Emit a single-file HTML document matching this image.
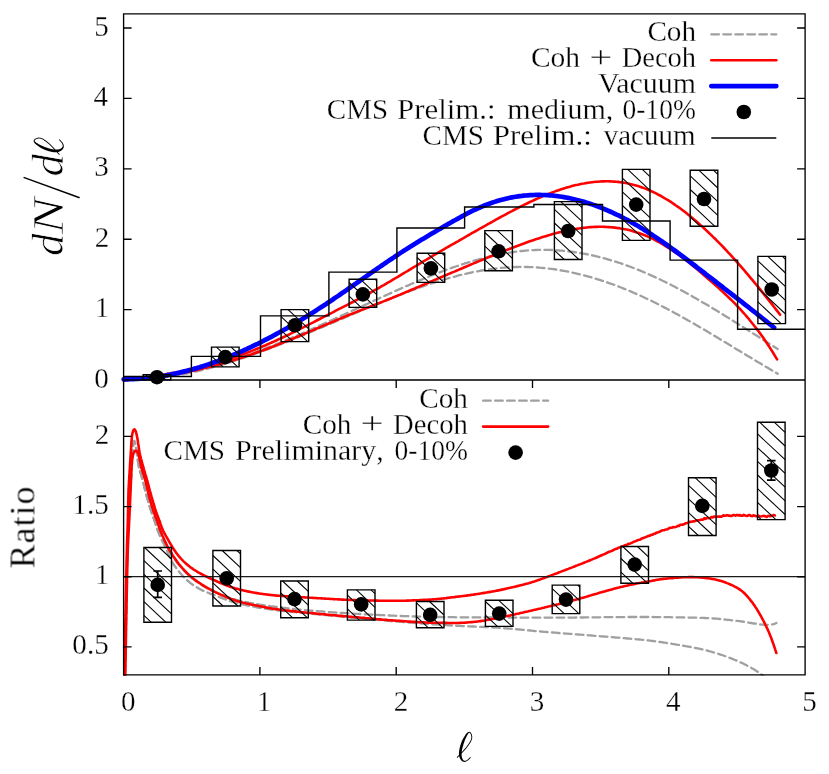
<!DOCTYPE html>
<html><head><meta charset="utf-8"><title>chart</title>
<style>html,body{margin:0;padding:0;background:#fff;width:829px;height:774px;overflow:hidden;}svg{display:block;position:absolute;left:0;top:0;}body{font-family:"Liberation Serif",serif;}</style></head>
<body>
<svg width="829" height="774" viewBox="0 0 829 774">
<rect width="829" height="774" fill="#fff"/>
<defs>
<clipPath id="ct"><rect x="120.6" y="13.9" width="684.5" height="369.1"/></clipPath>
<clipPath id="cb"><rect x="122.1" y="380" width="683" height="295.7"/></clipPath>
</defs>
<g fill="none" stroke-linejoin="round" clip-path="url(#ct)">
<path d="M123.6 379.5L125.6 379.5L127.6 379.4L129.6 379.4L131.6 379.4L133.6 379.3L135.6 379.2L137.6 379.2L139.6 379L141.6 378.9L143.6 378.8L145.6 378.6L147.6 378.5L149.6 378.3L151.6 378.1L153.6 377.9L155.6 377.7L157.6 377.5L159.6 377.2L161.6 377L163.6 376.7L165.6 376.4L167.6 376.1L169.6 375.8L171.6 375.5L173.6 375.1L175.6 374.8L177.6 374.4L179.6 374.1L181.6 373.7L183.6 373.3L185.6 372.9L187.6 372.4L189.6 372L191.6 371.6L193.6 371.1L195.6 370.6L197.6 370.2L199.6 369.7L201.6 369.2L203.6 368.7L205.6 368.2L207.6 367.6L209.6 367.1L211.6 366.5L213.6 366L215.6 365.4L217.6 364.8L219.6 364.2L221.6 363.6L223.6 363L225.6 362.4L227.6 361.8L229.6 361.2L231.6 360.5L233.6 359.9L235.6 359.2L237.6 358.5L239.6 357.9L241.6 357.2L243.6 356.5L245.6 355.8L247.6 355.1L249.6 354.4L251.6 353.6L253.6 352.9L255.6 352.2L257.6 351.4L259.6 350.7L261.6 349.9L263.6 349.1L265.6 348.4L267.6 347.6L269.6 346.8L271.6 346L273.6 345.2L275.6 344.4L277.6 343.6L279.6 342.8L281.6 342L283.6 341.2L285.6 340.3L287.6 339.5L289.6 338.7L291.6 337.8L293.6 337L295.6 336.1L297.6 335.3L299.6 334.4L301.6 333.6L303.6 332.7L305.6 331.8L307.6 330.9L309.6 330.1L311.6 329.2L313.6 328.3L315.6 327.4L317.6 326.5L319.6 325.6L321.6 324.7L323.6 323.8L325.6 322.9L327.6 322L329.6 321.1L331.6 320.2L333.6 319.3L335.6 318.4L337.6 317.5L339.6 316.6L341.6 315.6L343.6 314.7L345.6 313.8L347.6 312.9L349.6 312L351.6 311L353.6 310.1L355.6 309.2L357.6 308.3L359.6 307.3L361.6 306.4L363.6 305.5L365.6 304.6L367.6 303.7L369.6 302.7L371.6 301.8L373.6 300.9L375.6 300L377.6 299.1L379.6 298.1L381.6 297.2L383.6 296.3L385.6 295.4L387.6 294.5L389.6 293.6L391.6 292.7L393.6 291.8L395.6 290.9L397.6 290L399.6 289.1L401.6 288.2L403.6 287.3L405.6 286.4L407.6 285.6L409.6 284.7L411.6 283.8L413.6 283L415.6 282.1L417.6 281.3L419.6 280.4L421.6 279.6L423.6 278.8L425.6 277.9L427.6 277.1L429.6 276.3L431.6 275.5L433.6 274.7L435.6 273.9L437.6 273.1L439.6 272.4L441.6 271.6L443.6 270.9L445.6 270.1L447.6 269.4L449.6 268.7L451.7 267.9L453.7 267.2L455.7 266.5L457.7 265.9L459.7 265.2L461.7 264.5L463.7 263.9L465.7 263.2L467.7 262.6L469.7 262L471.7 261.4L473.7 260.8L475.7 260.2L477.7 259.7L479.7 259.1L481.7 258.6L483.7 258L485.7 257.5L487.7 257L489.7 256.6L491.7 256.1L493.7 255.6L495.7 255.2L497.7 254.8L499.7 254.4L501.7 254L503.7 253.6L505.7 253.2L507.7 252.9L509.7 252.6L511.7 252.3L513.7 252L515.7 251.7L517.7 251.5L519.7 251.2L521.7 251L523.7 250.8L525.7 250.6L527.7 250.4L529.7 250.3L531.7 250.2L533.7 250.1L535.7 250L537.7 249.9L539.7 249.9L541.7 249.8L543.7 249.8L545.7 249.8L547.7 249.9L549.7 249.9L551.7 250L553.7 250.1L555.7 250.2L557.7 250.3L559.7 250.5L561.7 250.6L563.7 250.8L565.7 251L567.7 251.2L569.7 251.5L571.7 251.7L573.7 252L575.7 252.3L577.7 252.6L579.7 252.9L581.7 253.3L583.7 253.6L585.7 254L587.7 254.4L589.7 254.8L591.7 255.2L593.7 255.7L595.7 256.2L597.7 256.6L599.7 257.1L601.7 257.6L603.7 258.2L605.7 258.7L607.7 259.3L609.7 259.9L611.7 260.5L613.7 261.1L615.7 261.7L617.7 262.3L619.7 263L621.7 263.7L623.7 264.4L625.7 265.1L627.7 265.8L629.7 266.5L631.7 267.3L633.7 268L635.7 268.8L637.7 269.6L639.7 270.4L641.7 271.2L643.7 272.1L645.7 272.9L647.7 273.8L649.7 274.7L651.7 275.6L653.7 276.5L655.7 277.4L657.7 278.3L659.7 279.3L661.7 280.3L663.7 281.2L665.7 282.2L667.7 283.2L669.7 284.2L671.7 285.2L673.7 286.3L675.7 287.3L677.7 288.4L679.7 289.4L681.7 290.5L683.7 291.6L685.7 292.7L687.7 293.8L689.7 294.9L691.7 296L693.7 297.2L695.7 298.3L697.7 299.4L699.7 300.6L701.7 301.8L703.7 302.9L705.7 304.1L707.7 305.3L709.7 306.5L711.7 307.7L713.7 308.9L715.7 310.1L717.7 311.3L719.7 312.5L721.7 313.7L723.7 315L725.7 316.2L727.7 317.4L729.7 318.7L731.7 319.9L733.7 321.2L735.7 322.4L737.7 323.7L739.7 324.9L741.7 326.2L743.7 327.5L745.7 328.7L747.7 330L749.7 331.3L751.7 332.5L753.7 333.8L755.7 335.1L757.7 336.3L759.7 337.6L761.7 338.9L763.7 340.2L765.7 341.4L767.7 342.7L769.7 344L771.7 345.2L773.7 346.5L775.7 347.8L777.7 349" stroke="#a0a0a0" stroke-width="2.3" stroke-linecap="round" stroke-dasharray="7.7 4.3"/>
<path d="M123.6 379.4L125.6 379.5L127.6 379.5L129.6 379.5L131.6 379.5L133.6 379.5L135.6 379.4L137.6 379.4L139.6 379.3L141.6 379.2L143.6 379.1L145.6 379L147.6 378.8L149.6 378.7L151.6 378.5L153.6 378.3L155.6 378.2L157.6 378L159.6 377.7L161.6 377.5L163.6 377.2L165.6 377L167.6 376.7L169.6 376.4L171.6 376.1L173.6 375.8L175.6 375.5L177.6 375.1L179.6 374.8L181.6 374.4L183.6 374L185.6 373.7L187.6 373.3L189.6 372.8L191.6 372.4L193.6 372L195.6 371.5L197.6 371.1L199.6 370.6L201.6 370.1L203.6 369.6L205.6 369.1L207.6 368.6L209.6 368.1L211.6 367.6L213.6 367L215.6 366.5L217.6 365.9L219.6 365.4L221.6 364.8L223.6 364.2L225.6 363.6L227.6 363L229.6 362.4L231.6 361.8L233.6 361.1L235.6 360.5L237.6 359.8L239.6 359.2L241.6 358.5L243.6 357.8L245.6 357.2L247.6 356.5L249.6 355.8L251.6 355.1L253.6 354.4L255.6 353.7L257.6 353L259.6 352.2L261.6 351.5L263.6 350.8L265.6 350L267.6 349.3L269.6 348.5L271.6 347.8L273.6 347L275.6 346.2L277.6 345.4L279.6 344.7L281.6 343.9L283.6 343.1L285.6 342.3L287.6 341.5L289.6 340.7L291.6 339.9L293.6 339.1L295.6 338.3L297.6 337.5L299.6 336.6L301.6 335.8L303.6 335L305.6 334.2L307.6 333.3L309.6 332.5L311.6 331.7L313.6 330.8L315.6 330L317.6 329.1L319.6 328.3L321.6 327.5L323.6 326.6L325.6 325.8L327.6 324.9L329.6 324.1L331.6 323.2L333.6 322.4L335.6 321.5L337.6 320.7L339.6 319.8L341.6 319L343.6 318.1L345.6 317.3L347.6 316.4L349.6 315.6L351.6 314.7L353.6 313.9L355.6 313L357.6 312.2L359.6 311.3L361.6 310.5L363.6 309.6L365.6 308.8L367.6 308L369.6 307.1L371.6 306.3L373.6 305.5L375.6 304.6L377.6 303.8L379.6 303L381.6 302.2L383.6 301.3L385.6 300.5L387.6 299.7L389.6 298.9L391.6 298.1L393.6 297.3L395.6 296.5L397.6 295.7L399.6 295L401.6 294.2L403.6 293.4L405.6 292.7L407.6 291.9L409.6 291.2L411.6 290.4L413.6 289.7L415.6 289L417.6 288.2L419.6 287.5L421.6 286.8L423.6 286.1L425.6 285.4L427.6 284.7L429.6 284.1L431.6 283.4L433.6 282.8L435.6 282.1L437.6 281.5L439.6 280.9L441.6 280.2L443.6 279.6L445.6 279.1L447.6 278.5L449.6 277.9L451.7 277.3L453.7 276.8L455.7 276.3L457.7 275.7L459.7 275.2L461.7 274.7L463.7 274.3L465.7 273.8L467.7 273.3L469.7 272.9L471.7 272.5L473.7 272L475.7 271.6L477.7 271.3L479.7 270.9L481.7 270.5L483.7 270.2L485.7 269.9L487.7 269.5L489.7 269.3L491.7 269L493.7 268.7L495.7 268.5L497.7 268.2L499.7 268L501.7 267.8L503.7 267.7L505.7 267.5L507.7 267.4L509.7 267.2L511.7 267.1L513.7 267.1L515.7 267L517.7 267L519.7 266.9L521.7 266.9L523.7 266.9L525.7 267L527.7 267L529.7 267.1L531.7 267.1L533.7 267.2L535.7 267.4L537.7 267.5L539.7 267.7L541.7 267.8L543.7 268L545.7 268.2L547.7 268.4L549.7 268.7L551.7 268.9L553.7 269.2L555.7 269.5L557.7 269.8L559.7 270.1L561.7 270.5L563.7 270.8L565.7 271.2L567.7 271.6L569.7 272L571.7 272.4L573.7 272.9L575.7 273.3L577.7 273.8L579.7 274.3L581.7 274.8L583.7 275.3L585.7 275.8L587.7 276.3L589.7 276.9L591.7 277.5L593.7 278.1L595.7 278.7L597.7 279.3L599.7 279.9L601.7 280.6L603.7 281.2L605.7 281.9L607.7 282.6L609.7 283.3L611.7 284L613.7 284.7L615.7 285.5L617.7 286.2L619.7 287L621.7 287.8L623.7 288.6L625.7 289.4L627.7 290.2L629.7 291L631.7 291.9L633.7 292.8L635.7 293.6L637.7 294.5L639.7 295.4L641.7 296.3L643.7 297.2L645.7 298.2L647.7 299.1L649.7 300.1L651.7 301L653.7 302L655.7 303L657.7 304L659.7 305L661.7 306.1L663.7 307.1L665.7 308.1L667.7 309.2L669.7 310.3L671.7 311.3L673.7 312.4L675.7 313.5L677.7 314.6L679.7 315.7L681.7 316.8L683.7 317.9L685.7 319L687.7 320.2L689.7 321.3L691.7 322.5L693.7 323.6L695.7 324.8L697.7 325.9L699.7 327.1L701.7 328.3L703.7 329.4L705.7 330.6L707.7 331.8L709.7 333L711.7 334.2L713.7 335.4L715.7 336.6L717.7 337.8L719.7 339L721.7 340.2L723.7 341.4L725.7 342.6L727.7 343.8L729.7 345L731.7 346.2L733.7 347.4L735.7 348.7L737.7 349.9L739.7 351.1L741.7 352.3L743.7 353.5L745.7 354.7L747.7 355.9L749.7 357.1L751.7 358.3L753.7 359.5L755.7 360.7L757.7 361.9L759.7 363.1L761.7 364.3L763.7 365.5L765.7 366.7L767.7 367.8L769.7 369L771.7 370.2L773.7 371.3L775.7 372.5L777.7 373.7" stroke="#a0a0a0" stroke-width="2.3" stroke-linecap="round" stroke-dasharray="7.7 4.3"/>
<path d="M123.6 380.2L125.6 380L127.6 379.7L129.6 379.5L131.6 379.2L133.6 378.9L135.6 378.6L137.6 378.4L139.6 378.1L141.6 377.8L143.6 377.5L145.6 377.3L147.6 377L149.6 376.7L151.6 376.4L153.6 376.1L155.6 375.8L157.6 375.5L159.6 375.2L161.6 374.8L163.6 374.5L165.6 374.2L167.6 373.8L169.6 373.5L171.6 373.1L173.6 372.8L175.6 372.4L177.6 372L179.6 371.7L181.6 371.3L183.6 370.9L185.6 370.5L187.6 370L189.7 369.6L191.7 369.2L193.7 368.7L195.7 368.3L197.7 367.8L199.7 367.3L201.7 366.9L203.7 366.4L205.7 365.8L207.7 365.3L209.7 364.8L211.7 364.3L213.7 363.7L215.7 363.1L217.7 362.5L219.7 362L221.7 361.3L223.7 360.7L225.7 360.1L227.7 359.5L229.7 358.8L231.7 358.1L233.7 357.5L235.7 356.8L237.7 356.1L239.7 355.4L241.7 354.7L243.7 353.9L245.7 353.2L247.7 352.4L249.7 351.7L251.7 350.9L253.7 350.1L255.7 349.3L257.7 348.5L259.7 347.7L261.7 346.8L263.7 346L265.7 345.2L267.7 344.3L269.7 343.4L271.7 342.5L273.7 341.6L275.7 340.7L277.7 339.8L279.7 338.9L281.7 338L283.7 337L285.7 336.1L287.7 335.1L289.7 334.2L291.7 333.2L293.7 332.2L295.7 331.2L297.7 330.2L299.7 329.2L301.7 328.2L303.7 327.2L305.7 326.2L307.7 325.1L309.7 324.1L311.7 323.1L313.7 322.1L315.7 321L317.7 320L319.7 319L321.8 317.9L323.8 316.9L325.8 315.9L327.8 314.8L329.8 313.8L331.8 312.8L333.8 311.8L335.8 310.7L337.8 309.7L339.8 308.7L341.8 307.7L343.8 306.6L345.8 305.6L347.8 304.6L349.8 303.5L351.8 302.5L353.8 301.5L355.8 300.4L357.8 299.4L359.8 298.3L361.8 297.3L363.8 296.2L365.8 295.1L367.8 294L369.8 293L371.8 291.9L373.8 290.7L375.8 289.6L377.8 288.5L379.8 287.4L381.8 286.2L383.8 285.1L385.8 283.9L387.8 282.7L389.8 281.6L391.8 280.4L393.8 279.2L395.8 278L397.8 276.8L399.8 275.6L401.8 274.4L403.8 273.2L405.8 272L407.8 270.8L409.8 269.6L411.8 268.4L413.8 267.2L415.8 266L417.8 264.8L419.8 263.6L421.8 262.4L423.8 261.2L425.8 260L427.8 258.8L429.8 257.6L431.8 256.4L433.8 255.2L435.8 254.1L437.8 252.9L439.8 251.7L441.8 250.5L443.8 249.4L445.8 248.2L447.8 247L449.8 245.9L451.9 244.7L453.9 243.6L455.9 242.4L457.9 241.3L459.9 240.1L461.9 239L463.9 237.8L465.9 236.7L467.9 235.5L469.9 234.4L471.9 233.2L473.9 232.1L475.9 231L477.9 229.8L479.9 228.7L481.9 227.6L483.9 226.5L485.9 225.3L487.9 224.2L489.9 223.1L491.9 222L493.9 220.8L495.9 219.7L497.9 218.6L499.9 217.5L501.9 216.4L503.9 215.4L505.9 214.3L507.9 213.2L509.9 212.1L511.9 211.1L513.9 210L515.9 209L517.9 208L519.9 206.9L521.9 205.9L523.9 204.9L525.9 204L527.9 203L529.9 202L531.9 201.1L533.9 200.2L535.9 199.3L537.9 198.4L539.9 197.5L541.9 196.6L543.9 195.8L545.9 195L547.9 194.2L549.9 193.4L551.9 192.6L553.9 191.9L555.9 191.1L557.9 190.4L559.9 189.7L561.9 189.1L563.9 188.4L565.9 187.8L567.9 187.2L569.9 186.7L571.9 186.1L573.9 185.6L575.9 185.1L577.9 184.7L579.9 184.2L581.9 183.8L584 183.5L586 183.1L588 182.8L590 182.5L592 182.2L594 182L596 181.8L598 181.7L600 181.5L602 181.4L604 181.4L606 181.3L608 181.3L610 181.4L612 181.5L614 181.6L616 181.7L618 181.9L620 182.2L622 182.4L624 182.7L626 183.1L628 183.5L630 183.9L632 184.4L634 184.9L636 185.5L638 186.1L640 186.7L642 187.4L644 188.1L646 188.9L648 189.7L650 190.6L652 191.5L654 192.4L656 193.4L658 194.5L660 195.5L662 196.6L664 197.8L666 199L668 200.2L670 201.4L672 202.7L674 204.1L676 205.5L678 206.9L680 208.3L682 209.8L684 211.3L686 212.8L688 214.4L690 216L692 217.7L694 219.4L696 221.1L698 222.8L700 224.6L702 226.4L704 228.2L706 230.1L708 232L710 233.9L712 235.8L714 237.8L716.1 239.8L718.1 241.8L720.1 243.8L722.1 245.9L724.1 248L726.1 250.1L728.1 252.3L730.1 254.4L732.1 256.6L734.1 258.8L736.1 261.1L738.1 263.3L740.1 265.6L742.1 267.9L744.1 270.2L746.1 272.6L748.1 274.9L750.1 277.3L752.1 279.7L754.1 282.1L756.1 284.5L758.1 286.9L760.1 289.4L762.1 291.9L764.1 294.4L766.1 296.9L768.1 299.4L770.1 301.9L772.1 304.4L774.1 307L776.1 309.6L778.1 312.1L780.1 314.7" stroke="#ff0000" stroke-width="2.6" stroke-linecap="round"/>
<path d="M123.6 380.1L125.6 380L127.6 379.9L129.6 379.8L131.6 379.7L133.6 379.5L135.6 379.4L137.6 379.2L139.6 379L141.6 378.8L143.6 378.6L145.7 378.4L147.7 378.2L149.7 378L151.7 377.7L153.7 377.5L155.7 377.2L157.7 377L159.7 376.7L161.7 376.4L163.7 376.1L165.7 375.8L167.7 375.5L169.7 375.2L171.7 374.9L173.7 374.5L175.7 374.2L177.7 373.8L179.7 373.4L181.7 373.1L183.7 372.7L185.7 372.3L187.7 371.9L189.8 371.5L191.8 371L193.8 370.6L195.8 370.2L197.8 369.7L199.8 369.3L201.8 368.8L203.8 368.3L205.8 367.8L207.8 367.3L209.8 366.8L211.8 366.3L213.8 365.8L215.8 365.3L217.8 364.7L219.8 364.2L221.8 363.6L223.8 363L225.8 362.5L227.8 361.9L229.8 361.3L231.8 360.7L233.9 360.1L235.9 359.5L237.9 358.8L239.9 358.2L241.9 357.6L243.9 356.9L245.9 356.3L247.9 355.6L249.9 354.9L251.9 354.2L253.9 353.5L255.9 352.8L257.9 352.1L259.9 351.4L261.9 350.7L263.9 350L265.9 349.2L267.9 348.5L269.9 347.7L271.9 347L273.9 346.2L275.9 345.4L278 344.6L280 343.8L282 343L284 342.2L286 341.4L288 340.6L290 339.8L292 339L294 338.2L296 337.3L298 336.5L300 335.6L302 334.8L304 334L306 333.1L308 332.3L310 331.4L312 330.6L314 329.7L316 328.8L318 328L320.1 327.1L322.1 326.3L324.1 325.4L326.1 324.6L328.1 323.7L330.1 322.9L332.1 322L334.1 321.2L336.1 320.3L338.1 319.5L340.1 318.6L342.1 317.8L344.1 317L346.1 316.1L348.1 315.3L350.1 314.5L352.1 313.7L354.1 312.9L356.1 312.1L358.1 311.3L360.1 310.5L362.1 309.7L364.2 308.9L366.2 308.1L368.2 307.4L370.2 306.6L372.2 305.8L374.2 305.1L376.2 304.3L378.2 303.5L380.2 302.7L382.2 301.9L384.2 301.1L386.2 300.3L388.2 299.5L390.2 298.7L392.2 297.9L394.2 297L396.2 296.2L398.2 295.4L400.2 294.6L402.2 293.7L404.2 292.9L406.2 292L408.3 291.2L410.3 290.3L412.3 289.5L414.3 288.7L416.3 287.8L418.3 287L420.3 286.1L422.3 285.2L424.3 284.4L426.3 283.5L428.3 282.7L430.3 281.8L432.3 281L434.3 280.1L436.3 279.3L438.3 278.4L440.3 277.5L442.3 276.7L444.3 275.8L446.3 275L448.3 274.1L450.4 273.3L452.4 272.4L454.4 271.6L456.4 270.7L458.4 269.9L460.4 269L462.4 268.2L464.4 267.3L466.4 266.5L468.4 265.6L470.4 264.8L472.4 263.9L474.4 263.1L476.4 262.3L478.4 261.4L480.4 260.6L482.4 259.8L484.4 259L486.4 258.1L488.4 257.3L490.4 256.5L492.4 255.7L494.5 254.9L496.5 254.1L498.5 253.3L500.5 252.5L502.5 251.7L504.5 250.9L506.5 250.1L508.5 249.3L510.5 248.6L512.5 247.8L514.5 247L516.5 246.2L518.5 245.5L520.5 244.7L522.5 244L524.5 243.3L526.5 242.5L528.5 241.8L530.5 241.1L532.5 240.4L534.5 239.7L536.5 239.1L538.6 238.4L540.6 237.7L542.6 237.1L544.6 236.5L546.6 235.9L548.6 235.3L550.6 234.7L552.6 234.1L554.6 233.6L556.6 233L558.6 232.5L560.6 232L562.6 231.5L564.6 231.1L566.6 230.6L568.6 230.2L570.6 229.8L572.6 229.5L574.6 229.1L576.6 228.8L578.6 228.5L580.6 228.2L582.7 227.9L584.7 227.7L586.7 227.5L588.7 227.3L590.7 227.1L592.7 227L594.7 226.9L596.7 226.9L598.7 226.8L600.7 226.8L602.7 226.8L604.7 226.9L606.7 227L608.7 227.1L610.7 227.2L612.7 227.4L614.7 227.6L616.7 227.9L618.7 228.1L620.7 228.5L622.7 228.8L624.8 229.2L626.8 229.6L628.8 230.1L630.8 230.6L632.8 231.2L634.8 231.7L636.8 232.4L638.8 233L640.8 233.7L642.8 234.5L644.8 235.3L646.8 236.1L648.8 237L650.8 237.9L652.8 238.9L654.8 239.9L656.8 241L658.8 242L660.8 243.2L662.8 244.4L664.8 245.6L666.8 246.8L668.9 248.1L670.9 249.4L672.9 250.8L674.9 252.1L676.9 253.5L678.9 255L680.9 256.5L682.9 258L684.9 259.5L686.9 261L688.9 262.6L690.9 264.2L692.9 265.8L694.9 267.5L696.9 269.1L698.9 270.8L700.9 272.5L702.9 274.2L704.9 276L706.9 277.7L708.9 279.5L710.9 281.2L713 283L715 284.8L717 286.6L719 288.4L721 290.3L723 292.1L725 294L727 295.9L729 297.8L731 299.7L733 301.7L735 303.7L737 305.8L739 307.9L741 310L743 312.3L745 314.5L747 316.9L749 319.2L751 321.7L753 324.2L755 326.7L757.1 329.4L759.1 332.1L761.1 334.8L763.1 337.6L765.1 340.5L767.1 343.5L769.1 346.5L771.1 349.6L773.1 352.8L775.1 356.1L777.1 359.4" stroke="#ff0000" stroke-width="2.6" stroke-linecap="round"/>
<path d="M123.6 379.3L125.6 379.3L127.6 379.3L129.6 379.2L131.6 379.2L133.6 379.1L135.6 379L137.6 378.9L139.6 378.7L141.6 378.6L143.6 378.4L145.6 378.2L147.6 378L149.6 377.8L151.6 377.6L153.6 377.3L155.6 377L157.6 376.8L159.6 376.5L161.6 376.1L163.6 375.8L165.6 375.5L167.6 375.1L169.6 374.7L171.6 374.3L173.6 373.9L175.6 373.5L177.6 373L179.6 372.6L181.6 372.1L183.6 371.6L185.6 371.1L187.6 370.6L189.7 370L191.7 369.5L193.7 368.9L195.7 368.4L197.7 367.8L199.7 367.2L201.7 366.5L203.7 365.9L205.7 365.3L207.7 364.6L209.7 363.9L211.7 363.2L213.7 362.5L215.7 361.8L217.7 361.1L219.7 360.3L221.7 359.6L223.7 358.8L225.7 358L227.7 357.2L229.7 356.4L231.7 355.6L233.7 354.7L235.7 353.9L237.7 353L239.7 352.2L241.7 351.3L243.7 350.4L245.7 349.5L247.7 348.5L249.7 347.6L251.7 346.7L253.7 345.7L255.7 344.7L257.7 343.8L259.7 342.8L261.7 341.8L263.7 340.7L265.7 339.7L267.7 338.7L269.7 337.6L271.7 336.6L273.7 335.5L275.7 334.4L277.7 333.3L279.7 332.2L281.7 331.1L283.7 330L285.7 328.9L287.7 327.7L289.7 326.6L291.7 325.4L293.7 324.2L295.7 323L297.7 321.8L299.7 320.6L301.7 319.4L303.7 318.2L305.7 317L307.7 315.7L309.7 314.5L311.7 313.2L313.7 312L315.7 310.7L317.7 309.4L319.8 308.1L321.8 306.8L323.8 305.5L325.8 304.2L327.8 302.8L329.8 301.5L331.8 300.2L333.8 298.8L335.8 297.4L337.8 296.1L339.8 294.7L341.8 293.3L343.8 292L345.8 290.6L347.8 289.2L349.8 287.8L351.8 286.4L353.8 285L355.8 283.6L357.8 282.2L359.8 280.8L361.8 279.4L363.8 278L365.8 276.6L367.8 275.2L369.8 273.8L371.8 272.4L373.8 271L375.8 269.6L377.8 268.2L379.8 266.9L381.8 265.5L383.8 264.1L385.8 262.7L387.8 261.4L389.8 260L391.8 258.7L393.8 257.4L395.8 256L397.8 254.7L399.8 253.4L401.8 252.1L403.8 250.8L405.8 249.6L407.8 248.3L409.8 247L411.8 245.8L413.8 244.5L415.8 243.3L417.8 242L419.8 240.8L421.8 239.6L423.8 238.4L425.8 237.2L427.8 236L429.8 234.8L431.8 233.6L433.8 232.4L435.8 231.2L437.8 230L439.8 228.9L441.8 227.7L443.8 226.5L445.8 225.4L447.8 224.2L449.9 223.1L451.9 221.9L453.9 220.8L455.9 219.7L457.9 218.6L459.9 217.5L461.9 216.4L463.9 215.3L465.9 214.2L467.9 213.2L469.9 212.2L471.9 211.2L473.9 210.2L475.9 209.3L477.9 208.4L479.9 207.5L481.9 206.6L483.9 205.8L485.9 205L487.9 204.2L489.9 203.5L491.9 202.8L493.9 202.1L495.9 201.4L497.9 200.8L499.9 200.2L501.9 199.7L503.9 199.2L505.9 198.7L507.9 198.2L509.9 197.8L511.9 197.4L513.9 197L515.9 196.7L517.9 196.4L519.9 196.1L521.9 195.9L523.9 195.6L525.9 195.5L527.9 195.3L529.9 195.2L531.9 195.1L533.9 195L535.9 194.9L537.9 194.9L539.9 194.9L541.9 195L543.9 195L545.9 195.1L547.9 195.2L549.9 195.4L551.9 195.5L553.9 195.7L555.9 196L557.9 196.2L559.9 196.5L561.9 196.8L563.9 197.1L565.9 197.5L567.9 197.9L569.9 198.3L571.9 198.7L573.9 199.2L575.9 199.7L577.9 200.2L580 200.7L582 201.2L584 201.8L586 202.4L588 203.1L590 203.7L592 204.4L594 205.1L596 205.8L598 206.6L600 207.3L602 208.1L604 208.9L606 209.8L608 210.6L610 211.5L612 212.4L614 213.3L616 214.3L618 215.2L620 216.2L622 217.2L624 218.3L626 219.3L628 220.4L630 221.5L632 222.6L634 223.7L636 224.9L638 226L640 227.2L642 228.4L644 229.7L646 230.9L648 232.2L650 233.5L652 234.8L654 236.1L656 237.4L658 238.8L660 240.1L662 241.5L664 242.9L666 244.3L668 245.7L670 247.1L672 248.6L674 250L676 251.5L678 253L680 254.4L682 255.9L684 257.4L686 258.9L688 260.4L690 261.9L692 263.5L694 265L696 266.5L698 268.1L700 269.6L702 271.2L704 272.7L706 274.3L708 275.8L710.1 277.4L712.1 278.9L714.1 280.5L716.1 282L718.1 283.6L720.1 285.1L722.1 286.7L724.1 288.3L726.1 289.8L728.1 291.4L730.1 292.9L732.1 294.5L734.1 296L736.1 297.6L738.1 299.1L740.1 300.7L742.1 302.2L744.1 303.8L746.1 305.4L748.1 306.9L750.1 308.5L752.1 310.1L754.1 311.7L756.1 313.2L758.1 314.8L760.1 316.4L762.1 318L764.1 319.6L766.1 321.2L768.1 322.8L770.1 324.4L772.1 326L774.1 327.7" stroke="#0000ff" stroke-width="4.7" stroke-linecap="round"/>
</g>
<g fill="none" stroke-linejoin="round" clip-path="url(#cb)">
<path d="M124.6 690L124.6 688.5L124.7 687L124.7 685.5L124.7 684L124.7 682.5L124.8 681L124.8 679.5L124.8 678L124.9 676.5L124.9 675L124.9 673.5L124.9 672L125 670.5L125 669L125 667.5L125.1 666L125.1 664.5L125.1 663L125.2 661.5L125.2 660L125.2 658.5L125.3 657L125.3 655.5L125.3 654L125.4 652.5L125.4 651L125.4 649.5L125.4 648L125.5 646.5L125.5 645L125.5 643.5L125.6 642L125.6 640.5L125.6 639L125.7 637.5L125.7 636L125.7 634.5L125.8 633L125.8 631.5L125.8 630L125.9 628.5L125.9 627L125.9 625.5L126 624L126 622.4L126 620.9L126 619.4L126.1 617.9L126.1 616.4L126.1 614.9L126.2 613.4L126.2 611.9L126.2 610.4L126.3 608.9L126.3 607.4L126.3 605.9L126.3 604.4L126.4 602.9L126.4 601.4L126.4 599.9L126.5 598.4L126.5 596.9L126.5 595.4L126.5 593.9L126.6 592.4L126.6 590.9L126.6 589.4L126.6 587.9L126.7 586.4L126.7 584.9L126.7 583.4L126.7 581.9L126.8 580.4L126.8 578.9L126.8 577.4L126.8 575.9L126.9 574.4L126.9 572.9L126.9 571.4L126.9 569.9L127 568.4L127 566.9L127 565.4L127.1 563.9L127.1 562.4L127.1 560.9L127.2 559.4L127.2 557.9L127.2 556.4L127.3 554.9L127.3 553.4L127.3 551.9L127.4 550.4L127.4 548.9L127.5 547.4L127.5 545.9L127.6 544.4L127.6 542.9L127.7 541.4L127.7 539.9L127.8 538.4L127.8 536.9L127.9 535.4L128 533.9L128 532.4L128.1 530.9L128.1 529.4L128.2 527.9L128.3 526.4L128.3 524.9L128.4 523.4L128.5 521.9L128.6 520.4L128.6 518.9L128.7 517.4L128.8 515.9L128.9 514.4L128.9 512.9L129 511.4L129.1 509.9L129.2 508.4L129.2 506.9L129.3 505.4L129.4 503.9L129.5 502.4L129.6 500.9L129.7 499.4L129.8 497.9L129.8 496.4L129.9 494.9L130 493.4L130.1 491.9L130.2 490.4L130.3 488.9L130.4 487.4L130.6 485.9L130.7 484.4L130.8 482.9L130.9 481.4L131 479.9L131.1 478.4L131.2 476.9L131.3 475.4L131.4 473.9L131.5 472.4L131.6 470.9L131.7 469.4L131.7 467.9L131.8 466.4L131.9 464.9L132 463.4L132 461.9L132.1 460.4L132.2 458.9L132.2 457.4L132.3 455.9L132.4 454.4L132.5 452.9L132.6 451.4L132.7 449.9L132.9 448.4L133 446.8L133.3 444.9L133.6 443L133.9 441.6L134.3 441L134.6 441.6L135 443L135.4 444.9L135.7 446.7L136 448.2L136.3 449.7L136.5 451.2L136.8 452.7L137 454.2L137.2 455.6L137.4 457.1L137.6 458.6L137.8 460.1L138 461.6L138.3 463.1L138.5 464.6L138.8 466L139.1 467.5L139.4 469L139.8 470.4L140.2 471.9L140.6 473.3L141.1 474.7L141.5 476.2L141.9 477.6L142.3 479.1L142.7 480.5L143.1 482L143.5 483.4L143.8 484.9L144.2 486.3L144.5 487.8L144.9 489.3L145.3 490.7L145.6 492.2L146 493.6L146.4 495.1L146.8 496.5L147.2 498L147.6 499.4L148 500.9L148.4 502.3L148.8 503.7L149.3 505.2L149.7 506.6L150.2 508.1L150.6 509.5L151.1 510.9L151.5 512.3L152 513.7L152.6 515.2L153.1 516.6L153.6 518L154.1 519.4L154.6 520.8L155.1 522.2L155.5 523.7L156 525.1L156.4 526.5L156.9 528L157.4 529.4L157.9 530.8L158.5 532.2L159.1 533.5L159.8 534.9L160.4 536.2L161.1 537.6L161.8 538.9L162.5 540.2L163.2 541.6L163.9 542.9L164.6 544.2L165.4 545.5L166.1 546.8L166.9 548.1L167.7 549.4L168.5 550.6L169.3 551.9L170.2 553.1L171 554.4L171.9 555.6L172.8 556.8L173.7 558L174.6 559.2L175.5 560.4L176.4 561.6L177.3 562.8L178.3 564L179.2 565.1L180.2 566.3L181.2 567.4L182.2 568.5L183.2 569.6L184.2 570.7L185.3 571.8L186.3 572.9L187.4 574L188.5 575L189.6 576L190.7 577L191.8 578L193 578.9L194.2 579.8L195.4 580.7L196.6 581.6L197.8 582.5L199.1 583.4L200.3 584.2L201.6 585L202.9 585.9L204.2 586.6L205.5 587.4L206.8 588.1L208.1 588.8L209.4 589.5L210.8 590.2L212.1 590.8L213.4 591.4L214.8 592L216.2 592.7L217.5 593.3L218.9 593.8L220.3 594.4L221.7 595L223.2 595.5L224.6 596.1L226 596.6L227.4 597.1L228.9 597.6L230.3 598.1L231.7 598.5L233.2 599L234.6 599.4L236.1 599.8L237.5 600.2L239 600.6L240.4 600.9L241.9 601.2L243.3 601.6L244.8 601.9L246.2 602.2L247.7 602.5L249.2 602.8L250.6 603L252.1 603.3L253.6 603.6L255.1 603.8L256.6 604.1L258.1 604.3L259.5 604.6L261 604.8L262.5 605L264 605.3L265.5 605.5L267 605.7L268.5 605.9L270 606.1L271.5 606.3L273 606.5L274.5 606.7L275.9 606.9L277.4 607.1L278.9 607.3L280.4 607.5L281.9 607.7L283.4 607.9L284.9 608L286.4 608.2L287.9 608.4L289.4 608.5L290.8 608.7L292.3 608.9L293.8 609L295.3 609.2L296.8 609.3L298.3 609.5L299.8 609.6L301.3 609.8L302.8 609.9L304.3 610L305.8 610.2L307.3 610.3L308.8 610.4L310.3 610.6L311.8 610.7L313.3 610.8L314.8 610.9L316.3 611.1L317.8 611.2L319.3 611.3L320.8 611.4L322.3 611.5L323.8 611.7L325.2 611.8L326.7 611.9L328.2 612L329.7 612.1L331.2 612.2L332.7 612.3L334.2 612.4L335.7 612.5L337.2 612.6L338.7 612.7L340.2 612.8L341.7 612.9L343.2 613L344.7 613.1L346.2 613.2L347.7 613.3L349.2 613.4L350.7 613.5L352.2 613.6L353.7 613.7L355.2 613.8L356.7 613.8L358.2 613.9L359.7 614L361.2 614.1L362.7 614.2L364.2 614.3L365.7 614.3L367.2 614.4L368.7 614.5L370.2 614.6L371.7 614.6L373.2 614.7L374.7 614.8L376.2 614.9L377.7 614.9L379.2 615L380.7 615.1L382.2 615.2L383.7 615.2L385.2 615.3L386.7 615.4L388.2 615.5L389.7 615.5L391.2 615.6L392.7 615.7L394.2 615.7L395.7 615.8L397.2 615.8L398.7 615.9L400.2 616L401.7 616L403.2 616.1L404.7 616.1L406.2 616.2L407.7 616.2L409.2 616.3L410.7 616.3L412.2 616.4L413.7 616.4L415.2 616.5L416.7 616.5L418.2 616.6L419.7 616.6L421.2 616.6L422.7 616.7L424.2 616.7L425.7 616.7L427.2 616.8L428.7 616.8L430.2 616.8L431.7 616.9L433.2 616.9L434.7 616.9L436.2 617L437.7 617L439.2 617L440.7 617L442.2 617.1L443.7 617.1L445.2 617.1L446.7 617.1L448.2 617.2L449.7 617.2L451.2 617.2L452.7 617.2L454.2 617.2L455.7 617.3L457.2 617.3L458.7 617.3L460.2 617.3L461.7 617.3L463.3 617.3L464.8 617.3L466.3 617.3L467.8 617.4L469.3 617.4L470.8 617.4L472.3 617.4L473.8 617.4L475.3 617.4L476.8 617.4L478.3 617.4L479.8 617.4L481.3 617.5L482.8 617.5L484.3 617.5L485.8 617.5L487.3 617.5L488.8 617.5L490.3 617.5L491.8 617.5L493.3 617.5L494.8 617.5L496.3 617.5L497.8 617.6L499.3 617.6L500.8 617.6L502.3 617.6L503.8 617.6L505.3 617.6L506.8 617.6L508.3 617.6L509.8 617.6L511.3 617.6L512.8 617.6L514.3 617.6L515.8 617.6L517.3 617.6L518.8 617.7L520.3 617.7L521.8 617.7L523.3 617.7L524.8 617.7L526.3 617.7L527.8 617.7L529.3 617.7L530.8 617.7L532.3 617.7L533.8 617.7L535.3 617.7L536.8 617.7L538.3 617.7L539.8 617.7L541.3 617.7L542.8 617.7L544.3 617.7L545.8 617.7L547.3 617.7L548.8 617.7L550.3 617.7L551.8 617.7L553.3 617.7L554.8 617.7L556.3 617.7L557.8 617.7L559.3 617.7L560.8 617.7L562.3 617.6L563.8 617.6L565.3 617.6L566.8 617.6L568.4 617.6L569.9 617.6L571.4 617.6L572.9 617.6L574.4 617.6L575.9 617.5L577.4 617.5L578.9 617.5L580.4 617.5L581.9 617.5L583.4 617.5L584.9 617.4L586.4 617.4L587.9 617.4L589.4 617.4L590.9 617.4L592.4 617.4L593.9 617.3L595.4 617.3L596.9 617.3L598.4 617.3L599.9 617.3L601.4 617.3L602.9 617.2L604.4 617.2L605.9 617.2L607.4 617.2L608.9 617.2L610.4 617.2L611.9 617.2L613.4 617.1L614.9 617.1L616.4 617.1L617.9 617.1L619.4 617.1L620.9 617.1L622.4 617.1L623.9 617.1L625.4 617L626.9 617L628.4 617L629.9 617L631.4 617L632.9 617L634.4 617L635.9 617L637.4 617L638.9 617L640.4 617L641.9 617L643.4 617L644.9 617L646.4 617L647.9 617L649.4 617L650.9 617L652.4 617L653.9 617.1L655.4 617.1L656.9 617.1L658.4 617.1L659.9 617.1L661.4 617.1L662.9 617.1L664.4 617.2L666 617.2L667.5 617.2L669 617.2L670.5 617.2L672 617.3L673.5 617.3L675 617.3L676.5 617.3L678 617.4L679.5 617.4L681 617.4L682.5 617.4L684 617.5L685.5 617.5L687 617.5L688.5 617.6L690 617.6L691.5 617.6L693 617.7L694.5 617.7L696 617.7L697.5 617.8L699 617.8L700.5 617.9L702 617.9L703.5 617.9L705 618L706.5 618.1L708 618.1L709.5 618.2L711 618.3L712.5 618.4L714 618.5L715.5 618.6L717 618.7L718.5 618.9L720 619L721.4 619.2L722.9 619.3L724.4 619.5L725.9 619.6L727.4 619.8L728.9 619.9L730.4 620.1L731.9 620.3L733.4 620.4L734.9 620.6L736.4 620.8L737.9 620.9L739.4 621.1L740.9 621.3L742.3 621.5L743.8 621.8L745.3 622L746.8 622.3L748.3 622.5L749.7 622.8L751.2 623L752.7 623.3L754.2 623.5L755.7 623.7L757.2 623.9L758.7 624.2L760.1 624.4L761.6 624.6L763.1 624.7L764.6 624.8L766.1 624.8L767.6 624.8L769.1 624.7L770.6 624.6L772.1 624.5L773.5 624.1L775 623.6L776.4 623" stroke="#a0a0a0" stroke-width="2.3" stroke-linecap="round" stroke-dashoffset="7.5" stroke-dasharray="7.7 4.3"/>
<path d="M124.6 690L124.6 688.5L124.7 687L124.7 685.5L124.7 684L124.7 682.5L124.8 681L124.8 679.5L124.8 678L124.9 676.5L124.9 675L124.9 673.5L124.9 672L125 670.5L125 669L125 667.5L125.1 666L125.1 664.5L125.1 663L125.2 661.5L125.2 660L125.2 658.5L125.3 657L125.3 655.5L125.3 654L125.4 652.5L125.4 651L125.4 649.5L125.4 648L125.5 646.5L125.5 645L125.5 643.5L125.6 642L125.6 640.5L125.6 639L125.7 637.5L125.7 636L125.7 634.5L125.8 633L125.8 631.5L125.8 630L125.9 628.5L125.9 627L125.9 625.5L126 624L126 622.5L126 621L126 619.5L126.1 618L126.1 616.5L126.1 615L126.2 613.5L126.2 612L126.2 610.5L126.3 609L126.3 607.5L126.3 606L126.3 604.5L126.4 603L126.4 601.5L126.4 600L126.4 598.5L126.5 597L126.5 595.5L126.5 594L126.6 592.5L126.6 591L126.6 589.5L126.6 588L126.7 586.5L126.7 585L126.7 583.5L126.7 582L126.8 580.5L126.8 579L126.8 577.5L126.8 576L126.9 574.5L126.9 573L126.9 571.5L126.9 570L127 568.5L127 567L127 565.5L127.1 564L127.1 562.5L127.1 561L127.2 559.5L127.2 558L127.2 556.5L127.3 555L127.3 553.5L127.3 552L127.4 550.5L127.4 549L127.5 547.5L127.5 546L127.6 544.5L127.6 543L127.7 541.5L127.7 540L127.8 538.5L127.8 537L127.9 535.5L128 534L128 532.5L128.1 531L128.1 529.5L128.2 528L128.3 526.5L128.3 525L128.4 523.5L128.5 522L128.6 520.5L128.6 519L128.7 517.5L128.8 516L128.9 514.5L128.9 513L129 511.5L129.1 510L129.2 508.5L129.2 507L129.3 505.5L129.4 504L129.5 502.5L129.6 501L129.7 499.5L129.7 498L129.8 496.5L129.9 495L130 493.5L130.1 492L130.2 490.5L130.3 489L130.4 487.5L130.5 486L130.7 484.5L130.8 483L130.9 481.5L131 480L131.1 478.5L131.2 477L131.3 475.5L131.4 474L131.5 472.5L131.6 471.1L131.7 469.6L131.7 468.1L131.8 466.6L131.9 465L131.9 463.5L132 462L132.1 460.5L132.2 459L132.2 457.5L132.3 456L132.4 454.5L132.5 453L132.6 451.5L132.7 450.1L132.8 448.6L133 447L133.3 445.1L133.6 443.2L133.9 441.7L134.3 441L134.6 441.5L135 442.9L135.4 444.8L135.7 446.6L136 448.1L136.3 449.6L136.5 451L136.7 452.5L137 454L137.2 455.5L137.4 457L137.6 458.5L137.8 460L138 461.5L138.2 462.9L138.5 464.4L138.7 465.9L139 467.4L139.4 468.8L139.7 470.3L140.1 471.7L140.6 473.1L141 474.6L141.4 476L141.9 477.5L142.3 478.9L142.7 480.4L143.1 481.8L143.4 483.3L143.8 484.7L144.2 486.2L144.5 487.6L144.9 489.1L145.2 490.6L145.6 492L146 493.5L146.3 494.9L146.7 496.4L147.1 497.8L147.5 499.3L148 500.7L148.4 502.1L148.8 503.6L149.2 505L149.7 506.5L150.1 507.9L150.6 509.3L151 510.7L151.5 512.2L152 513.6L152.5 515L153 516.4L153.5 517.8L154 519.2L154.5 520.6L155 522.1L155.5 523.5L155.9 524.9L156.4 526.4L156.9 527.8L157.3 529.2L157.8 530.6L158.4 532L158.9 533.4L159.5 534.8L160.1 536.2L160.7 537.5L161.3 538.9L161.9 540.3L162.6 541.6L163.2 543L163.9 544.3L164.6 545.7L165.2 547L165.9 548.4L166.5 549.8L167.1 551.1L167.7 552.5L168.3 553.9L168.9 555.3L169.5 556.7L170.1 558L170.8 559.4L171.4 560.7L172.2 562L172.9 563.3L173.7 564.5L174.6 565.8L175.5 567L176.4 568.2L177.3 569.4L178.2 570.6L179.2 571.8L180.1 572.9L181.1 574L182.1 575.2L183.1 576.3L184.2 577.4L185.2 578.4L186.3 579.5L187.4 580.5L188.6 581.5L189.7 582.5L190.9 583.4L192.1 584.3L193.3 585.1L194.5 586L195.8 586.8L197.1 587.5L198.4 588.3L199.8 589L201.1 589.7L202.4 590.4L203.8 591L205.2 591.6L206.6 592.2L208 592.7L209.4 593.3L210.8 593.8L212.2 594.3L213.6 594.9L215 595.4L216.4 595.9L217.8 596.5L219.2 597L220.6 597.6L222 598.1L223.4 598.6L224.8 599.2L226.2 599.7L227.7 600.2L229.1 600.7L230.5 601.2L231.9 601.6L233.4 602.1L234.8 602.5L236.2 602.9L237.7 603.3L239.1 603.7L240.6 604L242 604.4L243.5 604.7L244.9 605L246.4 605.3L247.9 605.6L249.3 605.9L250.8 606.2L252.3 606.5L253.8 606.7L255.2 607L256.7 607.3L258.2 607.5L259.7 607.8L261.2 608L262.7 608.3L264.2 608.5L265.6 608.7L267.1 608.9L268.6 609.1L270.1 609.3L271.6 609.5L273.1 609.7L274.6 609.9L276.1 610.1L277.5 610.3L279 610.5L280.5 610.7L282 610.8L283.5 611L285 611.2L286.5 611.3L288 611.5L289.5 611.6L291 611.8L292.5 611.9L294 612.1L295.5 612.2L296.9 612.3L298.4 612.5L299.9 612.6L301.4 612.8L302.9 612.9L304.4 613.1L305.9 613.2L307.4 613.3L308.9 613.5L310.4 613.6L311.9 613.8L313.4 613.9L314.9 614.1L316.4 614.2L317.9 614.4L319.4 614.5L320.9 614.7L322.3 614.8L323.8 614.9L325.3 615.1L326.8 615.2L328.3 615.4L329.8 615.5L331.3 615.7L332.8 615.8L334.3 615.9L335.8 616.1L337.3 616.2L338.8 616.4L340.3 616.5L341.8 616.6L343.3 616.8L344.8 616.9L346.2 617L347.7 617.2L349.2 617.3L350.7 617.5L352.2 617.6L353.7 617.7L355.2 617.9L356.7 618L358.2 618.1L359.7 618.3L361.2 618.4L362.7 618.6L364.2 618.7L365.7 618.8L367.2 619L368.7 619.1L370.2 619.2L371.7 619.4L373.1 619.5L374.6 619.6L376.1 619.8L377.6 619.9L379.1 620L380.6 620.2L382.1 620.3L383.6 620.4L385.1 620.6L386.6 620.7L388.1 620.8L389.6 621L391.1 621.1L392.6 621.2L394.1 621.3L395.6 621.4L397.1 621.6L398.6 621.7L400.1 621.8L401.6 621.9L403.1 622L404.5 622.2L406 622.3L407.5 622.4L409 622.5L410.5 622.6L412 622.8L413.5 622.9L415 623L416.5 623.1L418 623.2L419.5 623.3L421 623.4L422.5 623.5L424 623.7L425.5 623.8L427 623.9L428.5 624L430 624.1L431.5 624.2L433 624.3L434.5 624.4L436 624.5L437.5 624.6L439 624.7L440.5 624.8L442 624.9L443.5 625L445 625.1L446.5 625.2L448 625.3L449.5 625.4L451 625.5L452.4 625.5L453.9 625.6L455.4 625.7L456.9 625.8L458.4 625.9L459.9 625.9L461.4 626L462.9 626.1L464.4 626.1L465.9 626.2L467.4 626.3L468.9 626.3L470.4 626.4L471.9 626.5L473.4 626.5L474.9 626.6L476.4 626.7L477.9 626.7L479.4 626.8L480.9 626.9L482.4 626.9L483.9 627L485.4 627.1L486.9 627.2L488.4 627.2L489.9 627.3L491.4 627.4L492.9 627.5L494.4 627.6L495.9 627.7L497.4 627.7L498.9 627.8L500.4 627.9L501.9 628L503.4 628.1L504.9 628.3L506.4 628.4L507.9 628.5L509.4 628.6L510.9 628.7L512.4 628.9L513.9 629L515.4 629.1L516.9 629.3L518.4 629.4L519.8 629.5L521.3 629.7L522.8 629.8L524.3 630L525.8 630.1L527.3 630.2L528.8 630.4L530.3 630.5L531.8 630.7L533.3 630.8L534.8 631L536.3 631.1L537.8 631.2L539.3 631.4L540.8 631.5L542.3 631.6L543.8 631.8L545.3 631.9L546.8 632L548.2 632.1L549.7 632.3L551.2 632.4L552.7 632.5L554.2 632.6L555.7 632.7L557.2 632.9L558.7 633L560.2 633.1L561.7 633.2L563.2 633.3L564.7 633.5L566.2 633.6L567.7 633.7L569.2 633.8L570.7 633.9L572.2 634L573.7 634.1L575.2 634.3L576.7 634.4L578.2 634.5L579.7 634.6L581.2 634.7L582.7 634.8L584.2 635L585.6 635.1L587.1 635.2L588.6 635.3L590.1 635.4L591.6 635.5L593.1 635.7L594.6 635.8L596.1 635.9L597.6 636L599.1 636.1L600.6 636.3L602.1 636.4L603.6 636.5L605.1 636.6L606.6 636.7L608.1 636.9L609.6 637L611.1 637.1L612.6 637.2L614.1 637.3L615.6 637.5L617.1 637.6L618.6 637.7L620.1 637.8L621.5 638L623 638.1L624.5 638.2L626 638.4L627.5 638.5L629 638.6L630.5 638.7L632 638.9L633.5 639L635 639.1L636.5 639.3L638 639.4L639.5 639.5L641 639.7L642.5 639.8L644 640L645.5 640.1L647 640.3L648.4 640.4L649.9 640.6L651.4 640.8L652.9 641L654.4 641.2L655.9 641.4L657.4 641.6L658.9 641.8L660.3 642L661.8 642.2L663.3 642.5L664.8 642.7L666.3 642.9L667.8 643.2L669.2 643.4L670.7 643.6L672.2 643.9L673.7 644.1L675.2 644.3L676.7 644.6L678.2 644.8L679.6 645.1L681.1 645.3L682.6 645.5L684.1 645.8L685.6 646.1L687 646.3L688.5 646.6L690 646.9L691.5 647.1L692.9 647.4L694.4 647.7L695.9 648L697.4 648.3L698.8 648.6L700.3 648.9L701.7 649.3L703.2 649.6L704.6 650L706.1 650.3L707.5 650.7L709 651.1L710.5 651.5L711.9 651.9L713.3 652.3L714.8 652.7L716.2 653.2L717.7 653.6L719.1 654.1L720.5 654.6L722 655L723.4 655.5L724.8 656L726.2 656.5L727.6 657L729 657.6L730.4 658.1L731.8 658.6L733.2 659.2L734.6 659.8L736 660.3L737.4 660.9L738.7 661.5L740.1 662.2L741.5 662.8L742.9 663.4L744.2 664.1L745.6 664.8L746.9 665.5L748.3 666.2L749.6 666.9L750.9 667.6L752.2 668.4L753.5 669.1L754.8 669.9L756 670.7L757.2 671.5L758.5 672.3L759.7 673.2L760.9 674.1L762.1 675L763.2 675.9L764.4 676.9L765.5 677.9L766.7 678.9L767.8 679.9L768.9 681L770 682" stroke="#a0a0a0" stroke-width="2.3" stroke-linecap="round" stroke-dashoffset="7.5" stroke-dasharray="7.7 4.3"/>
<path d="M124 690L124 688.8L124 687.6L124.1 686.4L124.1 685.2L124.1 684L124.1 682.8L124.2 681.6L124.2 680.4L124.2 679.2L124.2 678L124.3 676.8L124.3 675.6L124.3 674.4L124.3 673.2L124.3 672L124.4 670.8L124.4 669.6L124.4 668.4L124.4 667.2L124.5 666L124.5 664.8L124.5 663.6L124.5 662.4L124.6 661.2L124.6 660L124.6 658.8L124.6 657.6L124.7 656.4L124.7 655.2L124.7 654L124.7 652.8L124.8 651.6L124.8 650.4L124.8 649.2L124.8 648L124.9 646.8L124.9 645.6L124.9 644.4L124.9 643.2L125 642L125 640.8L125 639.6L125 638.4L125.1 637.2L125.1 636L125.1 634.8L125.1 633.6L125.2 632.4L125.2 631.2L125.2 630L125.2 628.8L125.3 627.6L125.3 626.4L125.3 625.2L125.3 624L125.4 622.8L125.4 621.6L125.4 620.4L125.4 619.2L125.5 618L125.5 616.8L125.5 615.6L125.6 614.4L125.6 613.2L125.6 612L125.6 610.8L125.7 609.6L125.7 608.4L125.7 607.2L125.7 606L125.7 604.8L125.8 603.6L125.8 602.4L125.8 601.2L125.8 600L125.9 598.8L125.9 597.6L125.9 596.4L125.9 595.2L126 594L126 592.8L126 591.6L126 590.4L126.1 589.2L126.1 588L126.1 586.8L126.1 585.6L126.1 584.4L126.2 583.2L126.2 582L126.2 580.8L126.2 579.6L126.3 578.4L126.3 577.2L126.3 576L126.3 574.8L126.4 573.6L126.4 572.4L126.4 571.2L126.4 570L126.5 568.8L126.5 567.6L126.5 566.4L126.5 565.2L126.6 564L126.6 562.8L126.6 561.6L126.6 560.4L126.7 559.2L126.7 558L126.7 556.8L126.8 555.6L126.8 554.4L126.8 553.2L126.9 552L126.9 550.8L126.9 549.6L126.9 548.4L127 547.2L127 546L127 544.8L127.1 543.6L127.1 542.4L127.2 541.2L127.2 540L127.2 538.8L127.3 537.6L127.3 536.4L127.4 535.2L127.4 534L127.4 532.8L127.5 531.6L127.5 530.4L127.5 529.2L127.6 528L127.6 526.8L127.7 525.6L127.7 524.4L127.7 523.2L127.8 522L127.8 520.8L127.8 519.6L127.9 518.4L127.9 517.2L127.9 516L127.9 514.8L128 513.6L128 512.4L128 511.2L128.1 510L128.1 508.8L128.1 507.6L128.1 506.4L128.2 505.2L128.2 504L128.2 502.8L128.2 501.6L128.3 500.4L128.3 499.2L128.3 498L128.4 496.8L128.4 495.6L128.4 494.4L128.5 493.2L128.5 492L128.5 490.8L128.6 489.6L128.6 488.4L128.7 487.2L128.8 486L128.8 484.8L128.9 483.6L129 482.4L129 481.2L129.1 480L129.2 478.8L129.2 477.6L129.3 476.4L129.4 475.2L129.5 474L129.6 472.8L129.6 471.6L129.7 470.4L129.8 469.2L129.9 468L129.9 466.8L130 465.6L130.1 464.4L130.1 463.2L130.2 462L130.3 460.8L130.4 459.6L130.4 458.4L130.5 457.2L130.6 456L130.7 454.8L130.8 453.6L130.8 452.4L130.9 451.2L131 450L131.1 448.8L131.1 447.6L131.2 446.4L131.3 445.2L131.4 444L131.4 442.8L131.5 441.6L131.6 440.4L131.7 439.2L131.8 438L131.9 436.8L132 435.6L132.2 434.4L132.5 433.2L132.8 432.1L133.1 431L133.7 429.7L134.5 429.3L135.2 430.3L135.8 431.4L136.1 432.5L136.4 433.7L136.7 434.9L136.9 436.1L137.2 437.3L137.4 438.5L137.6 439.6L137.8 440.8L138 442L138.1 443.2L138.3 444.4L138.5 445.6L138.7 446.8L138.8 448L139 449.1L139.2 450.3L139.4 451.5L139.6 452.7L139.9 453.9L140.1 455L140.4 456.2L140.7 457.4L140.9 458.5L141.2 459.7L141.6 460.9L141.9 462L142.2 463.2L142.5 464.3L142.8 465.5L143.2 466.7L143.5 467.8L143.8 469L144.1 470.1L144.5 471.3L144.8 472.4L145.1 473.6L145.5 474.7L145.8 475.9L146.2 477L146.5 478.2L146.8 479.3L147.1 480.5L147.5 481.7L147.8 482.8L148.1 484L148.4 485.1L148.7 486.3L149 487.5L149.3 488.6L149.6 489.8L149.9 490.9L150.3 492.1L150.6 493.3L150.9 494.4L151.2 495.6L151.5 496.7L151.9 497.9L152.2 499L152.5 500.2L152.9 501.3L153.2 502.5L153.5 503.7L153.9 504.8L154.2 506L154.6 507.1L154.9 508.2L155.3 509.4L155.6 510.5L156 511.7L156.4 512.8L156.8 513.9L157.2 515.1L157.7 516.2L158.1 517.3L158.5 518.4L158.9 519.6L159.4 520.7L159.8 521.8L160.2 522.9L160.6 524.1L161 525.2L161.4 526.4L161.8 527.5L162.2 528.6L162.7 529.7L163.1 530.8L163.7 531.9L164.2 532.9L164.8 534L165.4 535L166 536.1L166.6 537.1L167.2 538.1L167.8 539.2L168.4 540.2L169 541.3L169.6 542.3L170.2 543.4L170.8 544.4L171.4 545.5L172 546.5L172.6 547.5L173.3 548.5L174 549.5L174.6 550.5L175.3 551.5L176 552.5L176.7 553.5L177.5 554.4L178.2 555.4L178.9 556.3L179.7 557.2L180.5 558.1L181.3 559L182.1 559.9L182.9 560.7L183.8 561.6L184.7 562.4L185.6 563.2L186.5 564L187.4 564.8L188.3 565.6L189.3 566.3L190.2 567.1L191.2 567.8L192.2 568.4L193.1 569.1L194.1 569.8L195.2 570.4L196.2 571L197.2 571.7L198.2 572.3L199.3 572.9L200.3 573.5L201.4 574L202.5 574.6L203.6 575.2L204.6 575.7L205.7 576.3L206.8 576.8L207.9 577.3L209 577.8L210 578.3L211.1 578.8L212.2 579.3L213.3 579.8L214.4 580.3L215.5 580.8L216.6 581.3L217.7 581.8L218.8 582.2L219.9 582.7L221 583.2L222.2 583.6L223.3 584.1L224.4 584.6L225.5 585L226.7 585.4L227.8 585.8L228.9 586.3L230.1 586.7L231.2 587L232.3 587.4L233.5 587.8L234.6 588.2L235.8 588.5L236.9 588.8L238.1 589.1L239.2 589.5L240.4 589.7L241.5 590L242.7 590.3L243.8 590.6L245 590.8L246.2 591.1L247.4 591.4L248.5 591.6L249.7 591.8L250.9 592.1L252.1 592.3L253.3 592.5L254.5 592.7L255.7 592.9L256.8 593.1L258 593.3L259.2 593.5L260.4 593.7L261.6 593.8L262.8 594L264 594.2L265.2 594.3L266.4 594.5L267.5 594.6L268.7 594.8L269.9 594.9L271.1 595L272.3 595.1L273.5 595.3L274.7 595.4L275.9 595.5L277.1 595.6L278.3 595.7L279.5 595.8L280.7 595.9L281.9 596L283.1 596L284.3 596.1L285.5 596.2L286.7 596.3L287.9 596.4L289.1 596.5L290.3 596.5L291.5 596.6L292.7 596.7L293.9 596.8L295.1 596.8L296.3 596.9L297.5 597L298.7 597L299.9 597.1L301.1 597.2L302.3 597.3L303.5 597.3L304.7 597.4L305.9 597.5L307.1 597.5L308.3 597.6L309.5 597.7L310.7 597.7L311.8 597.8L313 597.9L314.2 598L315.4 598L316.6 598.1L317.8 598.2L319 598.2L320.2 598.3L321.4 598.4L322.6 598.5L323.8 598.5L325 598.6L326.2 598.7L327.4 598.8L328.6 598.8L329.8 598.9L331 599L332.2 599L333.4 599.1L334.6 599.2L335.8 599.2L337 599.3L338.2 599.4L339.4 599.4L340.6 599.5L341.8 599.6L343 599.6L344.2 599.7L345.4 599.7L346.6 599.8L347.8 599.8L349 599.9L350.2 599.9L351.4 600L352.6 600L353.8 600.1L355 600.1L356.2 600.2L357.4 600.2L358.6 600.2L359.8 600.3L361 600.3L362.2 600.3L363.4 600.3L364.6 600.4L365.8 600.4L367 600.4L368.2 600.5L369.4 600.5L370.6 600.5L371.8 600.5L373 600.5L374.2 600.6L375.4 600.6L376.6 600.6L377.8 600.6L379 600.7L380.2 600.7L381.4 600.7L382.6 600.7L383.8 600.7L385 600.7L386.2 600.8L387.4 600.8L388.6 600.8L389.8 600.8L391 600.8L392.2 600.8L393.4 600.8L394.6 600.8L395.8 600.8L397 600.8L398.2 600.8L399.4 600.8L400.6 600.8L401.8 600.7L403 600.7L404.2 600.7L405.4 600.7L406.6 600.6L407.8 600.6L409 600.6L410.2 600.5L411.4 600.5L412.6 600.4L413.8 600.4L415 600.3L416.2 600.3L417.4 600.2L418.6 600.2L419.8 600.1L421 600.1L422.2 600L423.4 599.9L424.6 599.9L425.8 599.8L427 599.8L428.2 599.7L429.4 599.6L430.6 599.6L431.8 599.5L433 599.4L434.2 599.3L435.4 599.2L436.6 599.1L437.8 599L439 598.9L440.2 598.8L441.4 598.6L442.6 598.5L443.8 598.4L445 598.2L446.2 598.1L447.3 597.9L448.5 597.8L449.7 597.6L450.9 597.5L452.1 597.3L453.3 597.2L454.5 597.1L455.7 596.9L456.9 596.8L458.1 596.6L459.3 596.5L460.5 596.3L461.7 596.2L462.8 596L464 595.9L465.2 595.7L466.4 595.6L467.6 595.4L468.8 595.2L470 595.1L471.2 594.9L472.4 594.7L473.6 594.6L474.7 594.4L475.9 594.2L477.1 594L478.3 593.9L479.5 593.7L480.7 593.5L481.9 593.3L483 593.1L484.2 592.9L485.4 592.7L486.6 592.5L487.8 592.3L489 592.1L490.2 591.9L491.3 591.7L492.5 591.5L493.7 591.3L494.9 591.1L496.1 590.8L497.2 590.6L498.4 590.4L499.6 590.1L500.8 589.9L501.9 589.6L503.1 589.4L504.3 589.1L505.5 588.9L506.6 588.6L507.8 588.3L509 588L510.1 587.8L511.3 587.5L512.5 587.2L513.6 587L514.8 586.7L516 586.4L517.2 586.1L518.3 585.9L519.5 585.6L520.7 585.3L521.8 585L523 584.7L524.1 584.4L525.3 584.1L526.5 583.8L527.6 583.5L528.8 583.2L529.9 582.8L531.1 582.5L532.2 582.1L533.4 581.7L534.5 581.4L535.6 581L536.8 580.6L537.9 580.2L539 579.8L540.2 579.4L541.3 579L542.4 578.6L543.6 578.2L544.7 577.8L545.8 577.3L547 576.9L548.1 576.5L549.2 576.1L550.3 575.7L551.5 575.3L552.6 574.9L553.7 574.4L554.8 574L556 573.6L557.1 573.2L558.2 572.7L559.3 572.3L560.4 571.9L561.6 571.4L562.7 571L563.8 570.6L564.9 570.2L566 569.7L567.2 569.3L568.3 568.9L569.4 568.4L570.5 568L571.6 567.6L572.8 567.1L573.9 566.7L575 566.3L576.1 565.8L577.2 565.4L578.4 564.9L579.5 564.5L580.6 564.1L581.7 563.6L582.8 563.2L583.9 562.7L585.1 562.3L586.2 561.9L587.3 561.4L588.4 561L589.5 560.5L590.6 560L591.7 559.6L592.8 559.1L593.9 558.6L595 558.2L596.1 557.7L597.2 557.2L598.3 556.7L599.4 556.3L600.5 555.6L601.6 555.4L602.7 554.8L603.8 554.4L604.9 554L606 553.3L607.1 552.8L608.2 552.2L609.3 551.8L610.4 551.4L611.5 551L612.6 550.5L613.7 549.9L614.8 549.3L615.9 548.9L617 548.7L618.1 547.9L619.2 547.6L620.4 547.3L621.5 546.5L622.6 546.3L623.7 546L624.8 545.3L625.9 545L627.1 544.7L628.2 543.9L629.3 543.7L630.4 543.4L631.5 542.9L632.7 542.3L633.8 541.7L634.9 541.4L636 540.9L637.1 540.5L638.2 540L639.3 539.8L640.5 539.4L641.6 538.6L642.7 538.3L643.8 537.7L644.9 537.4L646 536.9L647.1 536.6L648.3 536L649.4 535.6L650.5 535.4L651.6 534.7L652.7 534.6L653.9 533.7L655 533.6L656.1 533L657.2 532.5L658.3 532.3L659.5 531.8L660.6 531.3L661.7 530.5L662.8 530.2L664 530.3L665.1 529.7L666.3 529.5L667.4 529.3L668.5 528.8L669.7 527.9L670.8 527.8L672 527.7L673.1 527L674.3 527.3L675.5 527L676.6 526.6L677.8 525.9L678.9 525.9L680.1 524.9L681.2 524.8L682.4 524.6L683.5 524.5L684.7 523.9L685.8 523.2L687 523L688.1 522.6L689.3 522.3L690.4 521.8L691.6 521.7L692.7 521.4L693.9 521.4L695 521.1L696.2 520.6L697.4 520.2L698.5 520.3L699.7 520.1L700.9 519.7L702.1 519.6L703.2 519.5L704.4 518.2L705.6 518.9L706.8 518L708 518L709.1 518.2L710.3 517.9L711.5 517L712.7 517.4L713.9 516.6L715.1 516.8L716.3 517.1L717.4 516.6L718.6 516.6L719.8 516.6L721 516.6L722.2 516.4L723.4 515.3L724.6 515.7L725.8 515.7L727 515.1L728.2 515.6L729.4 515.6L730.6 515.9L731.8 516L733 515L734.2 515.1L735.4 515.6L736.6 515L737.8 515.1L739 515.5L740.2 515L741.4 515.8L742.6 515.8L743.8 514.8L745 515.4L746.2 515.8L747.4 516L748.6 515.1L749.8 515.1L751 516L752.2 516.1L753.4 515.3L754.6 515.7L755.8 516.1L757 516.3L758.2 515.6L759.4 516.3L760.6 516.5L761.8 516.3L763 516L764.2 515.9L765.4 516.3L766.6 517L767.8 516L769 515.9L770.2 516.2L771.4 515.7L772.5 515.5L773.7 515.1L774.9 515.4" stroke="#ff0000" stroke-width="2.6" stroke-linecap="round"/>
<path d="M125 690L125 688.5L125.1 687L125.1 685.5L125.1 684L125.1 682.5L125.2 681L125.2 679.5L125.2 678L125.3 676.5L125.3 675L125.3 673.5L125.3 672L125.4 670.5L125.4 669L125.4 667.5L125.5 666L125.5 664.5L125.5 663L125.5 661.5L125.6 660L125.6 658.5L125.6 657L125.6 655.5L125.7 654L125.7 652.5L125.7 651L125.7 649.5L125.8 648L125.8 646.5L125.8 645L125.8 643.5L125.9 642L125.9 640.5L125.9 639L125.9 637.5L126 636L126 634.5L126 633L126 631.5L126.1 630L126.1 628.5L126.1 627L126.1 625.5L126.2 624L126.2 622.5L126.2 621L126.3 619.5L126.3 618L126.3 616.5L126.3 615L126.4 613.5L126.4 612L126.4 610.5L126.5 609L126.5 607.5L126.5 606L126.5 604.5L126.6 603L126.6 601.5L126.6 600L126.7 598.5L126.7 597L126.7 595.5L126.7 594L126.8 592.5L126.8 591L126.8 589.5L126.9 588L126.9 586.5L126.9 585L127 583.5L127 582L127 580.5L127 579L127.1 577.5L127.1 576L127.1 574.5L127.2 573L127.2 571.5L127.2 570L127.3 568.5L127.3 567L127.4 565.5L127.4 564L127.4 562.5L127.5 561L127.5 559.5L127.6 558L127.6 556.5L127.6 555L127.7 553.5L127.7 552L127.8 550.5L127.8 549L127.9 547.5L127.9 546L128 544.5L128.1 543L128.1 541.5L128.2 540L128.3 538.5L128.4 537L128.4 535.5L128.5 534L128.6 532.5L128.7 531L128.8 529.5L128.8 528L128.9 526.5L129 525L129.1 523.5L129.1 522L129.2 520.6L129.3 519.1L129.4 517.6L129.4 516.1L129.5 514.6L129.6 513.1L129.6 511.6L129.7 510.1L129.8 508.6L129.8 507.1L129.9 505.6L130 504.1L130 502.6L130.1 501.1L130.2 499.6L130.2 498.1L130.3 496.6L130.4 495.1L130.4 493.6L130.5 492.1L130.6 490.6L130.6 489.1L130.7 487.6L130.7 486.1L130.8 484.6L130.9 483.1L130.9 481.6L131 480.1L131 478.6L131.1 477.1L131.2 475.6L131.2 474.1L131.3 472.6L131.4 471.1L131.5 469.6L131.5 468.1L131.6 466.6L131.7 465.1L131.8 463.6L132 462.1L132.1 460.6L132.3 459.1L132.5 457.6L132.7 456.1L133.1 454.6L133.5 453.2L134.2 451.9L135.3 450.7L136.4 450.8L137.4 452.2L138.1 453.5L138.6 454.9L139 456.4L139.3 457.9L139.7 459.4L140 460.8L140.3 462.3L140.6 463.8L140.9 465.3L141.2 466.7L141.5 468.2L142 469.6L142.4 471L142.8 472.5L143.3 473.9L143.8 475.3L144.2 476.8L144.7 478.2L145.1 479.6L145.5 481.1L145.9 482.5L146.2 484L146.5 485.5L146.9 486.9L147.2 488.4L147.5 489.8L147.9 491.3L148.2 492.8L148.6 494.2L148.9 495.7L149.3 497.1L149.7 498.6L150.1 500L150.5 501.5L150.9 502.9L151.3 504.4L151.8 505.8L152.2 507.2L152.7 508.7L153.1 510.1L153.6 511.5L154.1 512.9L154.6 514.3L155.1 515.7L155.6 517.2L156.2 518.6L156.7 520L157.2 521.4L157.7 522.8L158.2 524.2L158.6 525.7L159.1 527.1L159.6 528.5L160.1 529.9L160.6 531.3L161.2 532.7L161.8 534.1L162.3 535.5L163 536.8L163.6 538.2L164.2 539.6L164.8 540.9L165.5 542.3L166.1 543.6L166.8 545L167.4 546.3L168.1 547.7L168.9 549L169.6 550.3L170.4 551.6L171.2 552.8L172 554.1L172.8 555.4L173.6 556.6L174.4 557.9L175.3 559.1L176.2 560.3L177 561.6L177.9 562.8L178.8 564L179.8 565.1L180.7 566.3L181.7 567.4L182.7 568.5L183.7 569.6L184.7 570.8L185.8 571.8L186.9 572.9L187.9 574L189.1 575L190.2 576L191.3 576.9L192.5 577.9L193.6 578.8L194.8 579.7L196 580.6L197.2 581.5L198.5 582.3L199.7 583.2L201 584L202.3 584.8L203.6 585.6L204.8 586.4L206.1 587.2L207.4 587.9L208.8 588.6L210.1 589.3L211.4 590L212.7 590.7L214 591.4L215.4 592.1L216.7 592.7L218.1 593.4L219.4 594L220.8 594.7L222.2 595.3L223.6 595.9L225 596.5L226.4 597.1L227.8 597.7L229.2 598.2L230.6 598.8L232 599.3L233.4 599.8L234.8 600.3L236.2 600.8L237.6 601.2L239.1 601.6L240.5 602L241.9 602.4L243.4 602.8L244.8 603.1L246.3 603.5L247.8 603.8L249.2 604.1L250.7 604.4L252.2 604.7L253.7 605L255.1 605.3L256.6 605.6L258.1 605.9L259.6 606.2L261 606.5L262.5 606.8L264 607.1L265.5 607.4L266.9 607.6L268.4 607.9L269.9 608.2L271.4 608.4L272.8 608.7L274.3 608.9L275.8 609.1L277.3 609.3L278.8 609.5L280.3 609.7L281.7 609.9L283.2 610.1L284.7 610.3L286.2 610.5L287.7 610.6L289.2 610.8L290.7 611L292.2 611.1L293.7 611.3L295.2 611.4L296.7 611.6L298.2 611.8L299.6 611.9L301.1 612.1L302.6 612.2L304.1 612.4L305.6 612.5L307.1 612.7L308.6 612.8L310.1 613L311.6 613.1L313.1 613.3L314.6 613.4L316.1 613.6L317.6 613.7L319 613.9L320.5 614L322 614.2L323.5 614.3L325 614.4L326.5 614.6L328 614.7L329.5 614.9L331 615L332.5 615.1L334 615.3L335.5 615.4L337 615.5L338.5 615.7L340 615.8L341.5 615.9L343 616.1L344.4 616.2L345.9 616.3L347.4 616.5L348.9 616.6L350.4 616.7L351.9 616.9L353.4 617L354.9 617.1L356.4 617.3L357.9 617.4L359.4 617.5L360.9 617.7L362.4 617.8L363.9 617.9L365.4 618.1L366.9 618.2L368.4 618.3L369.8 618.5L371.3 618.6L372.8 618.8L374.3 618.9L375.8 619L377.3 619.2L378.8 619.3L380.3 619.4L381.8 619.6L383.3 619.7L384.8 619.8L386.3 619.9L387.8 620.1L389.3 620.2L390.8 620.3L392.3 620.4L393.8 620.5L395.3 620.6L396.8 620.7L398.3 620.8L399.7 620.9L401.2 621L402.7 621.1L404.2 621.2L405.7 621.3L407.2 621.5L408.7 621.6L410.2 621.6L411.7 621.7L413.2 621.8L414.7 621.9L416.2 622L417.7 622.1L419.2 622.2L420.7 622.3L422.2 622.3L423.7 622.4L425.2 622.5L426.7 622.5L428.2 622.6L429.7 622.6L431.2 622.6L432.7 622.7L434.2 622.7L435.7 622.7L437.2 622.8L438.7 622.8L440.2 622.8L441.7 622.9L443.2 622.9L444.7 622.9L446.2 622.9L447.7 623L449.2 623L450.7 623L452.2 623L453.7 623L455.2 623L456.7 623L458.2 623L459.7 622.9L461.2 622.8L462.7 622.8L464.2 622.7L465.7 622.6L467.2 622.5L468.7 622.3L470.2 622.2L471.7 622.1L473.2 622L474.7 621.8L476.2 621.7L477.6 621.5L479.1 621.3L480.6 621.1L482.1 620.9L483.6 620.7L485.1 620.4L486.5 620.1L488 619.8L489.5 619.6L491 619.3L492.4 619L493.9 618.7L495.4 618.4L496.9 618.1L498.3 617.8L499.8 617.5L501.3 617.2L502.7 616.9L504.2 616.6L505.7 616.3L507.1 616L508.6 615.7L510.1 615.4L511.5 615.1L513 614.8L514.5 614.5L515.9 614.1L517.4 613.8L518.9 613.5L520.3 613.1L521.8 612.8L523.3 612.5L524.7 612.1L526.2 611.8L527.7 611.5L529.1 611.1L530.6 610.8L532 610.4L533.5 610.1L535 609.7L536.4 609.4L537.9 609.1L539.3 608.7L540.8 608.4L542.3 608L543.7 607.7L545.2 607.3L546.6 607L548.1 606.6L549.6 606.3L551 605.9L552.5 605.6L553.9 605.2L555.4 604.9L556.8 604.5L558.3 604.2L559.8 603.8L561.2 603.4L562.7 603.1L564.1 602.7L565.6 602.4L567 602L568.5 601.6L569.9 601.2L571.4 600.9L572.9 600.5L574.3 600.1L575.8 599.7L577.2 599.3L578.6 598.9L580.1 598.5L581.5 598.1L583 597.7L584.4 597.3L585.9 596.9L587.3 596.4L588.7 596L590.2 595.6L591.6 595.1L593 594.7L594.5 594.3L595.9 593.9L597.4 593.5L598.8 593L600.2 592.6L601.7 592.2L603.1 591.8L604.6 591.4L606 591L607.5 590.6L608.9 590.2L610.4 589.8L611.8 589.4L613.2 589L614.7 588.6L616.1 588.2L617.6 587.8L619.1 587.5L620.5 587.1L622 586.8L623.4 586.4L624.9 586.1L626.3 585.8L627.8 585.4L629.3 585.1L630.8 584.8L632.2 584.5L633.7 584.2L635.2 583.9L636.6 583.6L638.1 583.3L639.6 583L641.1 582.8L642.5 582.5L644 582.2L645.5 581.9L647 581.7L648.4 581.4L649.9 581.2L651.4 580.9L652.9 580.6L654.3 580.4L655.8 580.1L657.3 579.8L658.8 579.6L660.3 579.3L661.7 579.1L663.2 578.9L664.7 578.7L666.2 578.6L667.7 578.5L669.2 578.3L670.7 578.2L672.2 578.1L673.7 577.9L675.2 577.8L676.7 577.7L678.2 577.6L679.7 577.5L681.2 577.4L682.7 577.3L684.2 577.3L685.7 577.2L687.2 577.2L688.7 577.1L690.2 577.1L691.7 577.1L693.2 577.1L694.7 577.2L696.2 577.2L697.7 577.3L699.2 577.4L700.7 577.5L702.2 577.7L703.7 577.8L705.1 577.9L706.6 578.1L708.1 578.3L709.6 578.5L711.1 578.7L712.6 579L714.1 579.3L715.5 579.6L717 579.9L718.4 580.3L719.9 580.7L721.3 581.1L722.8 581.5L724.2 582L725.6 582.5L727 583.1L728.4 583.6L729.8 584.2L731.1 584.8L732.5 585.4L733.9 586.1L735.2 586.8L736.6 587.5L737.9 588.3L739.2 589.1L740.4 589.9L741.5 590.8L742.7 591.7L743.8 592.7L744.9 593.7L745.9 594.8L746.9 595.9L748 597.1L748.9 598.2L749.9 599.4L750.8 600.6L751.8 601.8L752.7 603L753.5 604.2L754.4 605.4L755.2 606.7L756 607.9L756.9 609.2L757.6 610.5L758.4 611.8L759.2 613.1L759.9 614.4L760.7 615.7L761.4 617L762.1 618.3L762.8 619.7L763.5 621L764.2 622.3L764.9 623.7L765.5 625L766.2 626.4L766.8 627.7L767.5 629.1L768.1 630.5L768.7 631.8L769.3 633.2L769.8 634.6L770.4 636L771 637.4L771.5 638.8L772 640.2L772.5 641.6L773 643L773.5 644.4L774 645.8L774.5 647.3L775 648.7L775.4 650.1L775.9 651.6L776.3 653" stroke="#ff0000" stroke-width="2.6" stroke-linecap="round"/>
</g>
<path d="M123.6 576.7H805.1" stroke="#1a1a1a" stroke-width="1.2" fill="none"/>
<path d="M145.7 374.7L151.2 379.9M160.3 374.7L165.9 379.9M143.9 615.3L151.3 622.3M143.9 601.7L166 622.3M143.9 588L171.5 613.8M143.9 574.3L171.5 600.1M143.9 560.6L171.5 586.4M144.5 547.5L171.5 572.7M159.2 547.5L171.5 559M211.5 356.1L223 366.9M216.5 347.1L237.7 366.9M231.1 347.1L239.1 354.5M212.9 596.5L223 606M212.9 582.9L237.7 606M212.9 569.2L240.5 595M212.9 555.5L240.5 581.3M222.2 550.5L240.5 567.6M236.9 550.5L240.5 553.9M281.1 330.4L293.1 341.6M281.1 316.7L307.7 341.6M288.1 309.6L308.7 328.8M302.8 309.6L308.7 315.1M280.7 606.7L292.5 617.7M280.7 593L307.2 617.7M282.5 581L308.3 605.1M297.2 581L308.3 591.4M349.1 296.2L361.1 307.4M349.1 282.5L375.8 307.4M360.2 279.2L376.7 294.6M374.9 279.2L376.7 280.9M347.4 608.9L359.4 620.1M347.4 595.2L374.1 620.1M356.4 589.9L375 607.3M371 589.9L375 593.6M417.1 271.2L429.1 282.4M417.1 257.5L443.8 282.4M427.2 253.2L444.7 269.6M441.8 253.2L444.7 255.9M416.4 616.6L428.4 627.8M416.4 602.9L443 627.8M429.5 601.5L444 615M484.8 259.8L496.4 270.7M484.8 246.2L511.1 270.7M484.8 232.5L512.4 258.3M497.4 230.6L512.4 244.6M512.1 230.6L512.4 230.9M485.4 615.2L497.4 626.4M485.4 601.5L512 626.4M498.7 600.3L513 613.6M554.4 250.3L564.2 259.5M554.4 236.6L578.9 259.5M554.4 223L582 248.7M554.4 209.3L582 235.1M560.8 201.6L582 221.4M575.5 201.6L582 207.7M552.2 602.4L564.2 613.6M552.2 588.7L578.9 613.6M563 585.1L579.8 600.8M577.6 585.1L579.8 587.1M622.4 232.9L630.4 240.4M622.4 219.2L645.1 240.4M622.4 205.5L650 231.3M622.4 191.9L650 217.6M622.4 178.2L650 204M627.7 169.4L650 190.3M642.3 169.4L650 176.6M620.9 572.2L632.7 583.2M620.9 558.5L647.4 583.2M622.7 546.5L648.5 570.6M637.4 546.5L648.5 556.9M690.2 216.9L700.2 226.3M690.2 203.2L714.9 226.3M690.2 189.5L717.8 215.3M690.2 175.9L717.8 201.6M698.8 170.2L717.8 188M713.4 170.2L717.8 174.3M688.5 526.3L698.3 535.5M688.5 512.6L713 535.5M688.5 498.9L716.1 524.7M688.5 485.3L716.1 511M695.1 477.7L716.1 497.4M709.7 477.7L716.1 483.7M757.9 315.6L766.5 323.6M757.9 301.9L781.1 323.6M757.9 288.2L785.5 314M757.9 274.5L785.5 300.3M757.9 260.9L785.5 286.6M767.8 256.4L785.5 273M782.4 256.4L785.5 259.3M757.5 516.1L761.3 519.6M757.5 502.4L775.9 519.6M757.5 488.7L785.1 514.5M757.5 475L785.1 500.8M757.5 461.3L785.1 487.1M757.5 447.6L785.1 473.4M757.5 433.9L785.1 459.7M759.6 422.2L785.1 446M774.2 422.2L785.1 432.4" stroke="#000" stroke-width="1.05" fill="none"/>
<path d="M143.2 374.7H170.8V379.9H143.2ZM143.9 547.5H171.5V622.3H143.9ZM211.5 347.1H239.1V366.9H211.5ZM212.9 550.5H240.5V606H212.9ZM281.1 309.6H308.7V341.6H281.1ZM280.7 581H308.3V617.7H280.7ZM349.1 279.2H376.7V307.4H349.1ZM347.4 589.9H375V620.1H347.4ZM417.1 253.2H444.7V282.4H417.1ZM416.4 601.5H444V627.8H416.4ZM484.8 230.6H512.4V270.7H484.8ZM485.4 600.3H513V626.4H485.4ZM554.4 201.6H582V259.5H554.4ZM552.2 585.1H579.8V613.6H552.2ZM622.4 169.4H650V240.4H622.4ZM620.9 546.5H648.5V583.2H620.9ZM690.2 170.2H717.8V226.3H690.2ZM688.5 477.7H716.1V535.5H688.5ZM757.9 256.4H785.5V323.6H757.9ZM757.5 422.2H785.1V519.6H757.5Z" stroke="#000" stroke-width="1.4" fill="none" stroke-linejoin="miter"/>
<path d="M123.6 376.5V376.5H191.4V356.4H260.5V315.9H328.9V272.1H396.9V228H464.6V207H533.9V204.5H602.5V221H670.1V260.1H737.6V329.2H805.1" stroke="#000" stroke-width="1.4" fill="none" stroke-linejoin="miter"/>
<path d="M157.7 571V597.4M153.4 571H162M153.4 597.4H162M771.3 460.6V480.2M767 460.6H775.6M767 480.2H775.6" stroke="#000" stroke-width="1.7" fill="none"/>
<circle cx="157" cy="377.2" r="7.3"/>
<circle cx="157.7" cy="584.9" r="7.3"/>
<circle cx="225.3" cy="357.1" r="7.3"/>
<circle cx="226.7" cy="578.4" r="7.3"/>
<circle cx="294.9" cy="325.3" r="7.3"/>
<circle cx="294.5" cy="599.1" r="7.3"/>
<circle cx="362.9" cy="294.4" r="7.3"/>
<circle cx="361.2" cy="604.4" r="7.3"/>
<circle cx="430.9" cy="268.4" r="7.3"/>
<circle cx="430.2" cy="614.8" r="7.3"/>
<circle cx="498.6" cy="251.3" r="7.3"/>
<circle cx="499.2" cy="613.6" r="7.3"/>
<circle cx="568.2" cy="231" r="7.3"/>
<circle cx="566" cy="599.6" r="7.3"/>
<circle cx="636.2" cy="204.6" r="7.3"/>
<circle cx="634.7" cy="564.6" r="7.3"/>
<circle cx="704" cy="199" r="7.3"/>
<circle cx="702.3" cy="505.9" r="7.3"/>
<circle cx="771.7" cy="289.5" r="7.3"/>
<circle cx="771.3" cy="470.5" r="7.3"/>
<path d="M123.6 13.9H805.1V674.9H123.6ZM123.6 380H805.1M123.6 309.6h8M805.1 309.6h-8M123.6 239.2h8M805.1 239.2h-8M123.6 168.8h8M805.1 168.8h-8M123.6 98.4h8M805.1 98.4h-8M123.6 28h8M805.1 28h-8M123.6 646.9h8M805.1 646.9h-8M123.6 576.7h8M805.1 576.7h-8M123.6 506.6h8M805.1 506.6h-8M123.6 436.4h8M805.1 436.4h-8M259.9 674.9v-8M259.9 380v8M396.2 674.9v-8M396.2 380v8M532.5 674.9v-8M532.5 380v8M668.8 674.9v-8M668.8 380v8" stroke="#000" stroke-width="1.35" fill="none" stroke-linejoin="miter"/>
<path d="M711.3 34.3H776.3" stroke="#a0a0a0" stroke-width="2.3" stroke-linecap="round" stroke-dasharray="7.7 4.3" fill="none"/>
<path d="M711.3 60.2H776.3" stroke="#ff0000" stroke-width="2.6" stroke-linecap="round" fill="none"/>
<path d="M711.3 86.1H776.3" stroke="#0000ff" stroke-width="4.7" stroke-linecap="round" fill="none"/>
<circle cx="743.8" cy="112" r="7.3"/>
<path d="M711.3 138H776.3" stroke="#000" stroke-width="1.4" fill="none"/>
<path d="M483.1 400.7H548.1" stroke="#a0a0a0" stroke-width="2.3" stroke-linecap="round" stroke-dasharray="7.7 4.3" fill="none"/>
<path d="M483.1 426.6H548.1" stroke="#ff0000" stroke-width="2.6" stroke-linecap="round" fill="none"/>
<circle cx="515.6" cy="452.6" r="7.3"/>
<g font-family="'Liberation Serif', serif" fill="#000" opacity="0.999" style="font-kerning:none;font-variant-ligatures:none">
<text transform="translate(647.40 41.20) scale(0.9767 1)" font-size="29.9" stroke="#fff" stroke-width="0.3">Coh</text>
<text transform="translate(530.89 67.15) scale(0.9871 1)" font-size="29.9" stroke="#fff" stroke-width="0.3">Coh</text>
<text transform="translate(589.26 67.75) scale(1.2867 1)" font-size="31.9" stroke="#fff" stroke-width="0.3">+</text>
<text transform="translate(621.68 67.15) scale(0.9534 1)" font-size="29.9" stroke="#fff" stroke-width="0.3">Decoh</text>
<text transform="translate(598.06 93.10) scale(0.9993 1)" font-size="29.9" stroke="#fff" stroke-width="0.3" style="font-kerning:normal">Vacuum</text>
<text transform="translate(326.81 119.10) scale(0.9704 1)" font-size="29.9" stroke="#fff" stroke-width="0.3">CMS</text>
<text transform="translate(397.01 119.10) scale(1.0333 1)" font-size="29.9" stroke="#fff" stroke-width="0.3">Prelim.:</text>
<text transform="translate(507.37 119.10) scale(1.0053 1)" font-size="29.9" stroke="#fff" stroke-width="0.3">medium,</text>
<text transform="translate(622.45 119.10) scale(0.9363 1)" font-size="29.4" stroke="#fff" stroke-width="0.3">0-10%</text>
<text transform="translate(422.51 145.05) scale(0.9721 1)" font-size="29.9" stroke="#fff" stroke-width="0.3">CMS</text>
<text transform="translate(492.81 145.05) scale(1.0366 1)" font-size="29.9" stroke="#fff" stroke-width="0.3">Prelim.:</text>
<text transform="translate(603.70 145.05) scale(0.9694 1)" font-size="29.9" stroke="#fff" stroke-width="0.3">vacuum</text>
<text transform="translate(419.30 407.70) scale(0.9767 1)" font-size="29.9" stroke="#fff" stroke-width="0.3">Coh</text>
<text transform="translate(302.70 433.65) scale(0.9767 1)" font-size="29.9" stroke="#fff" stroke-width="0.3">Coh</text>
<text transform="translate(360.55 434.25) scale(1.2934 1)" font-size="31.9" stroke="#fff" stroke-width="0.3">+</text>
<text transform="translate(393.07 433.65) scale(0.9599 1)" font-size="29.9" stroke="#fff" stroke-width="0.3">Decoh</text>
<text transform="translate(163.45 459.60) scale(0.9762 1)" font-size="29.9" stroke="#fff" stroke-width="0.3">CMS</text>
<text transform="translate(234.94 459.60) scale(1.0014 1)" font-size="29.9" stroke="#fff" stroke-width="0.3">Preliminary,</text>
<text transform="translate(394.55 459.60) scale(0.9363 1)" font-size="29.4" stroke="#fff" stroke-width="0.3">0-10%</text>
<text transform="translate(94.16 387.60) scale(0.9700 1)" font-size="30" stroke="#fff" stroke-width="0.3">0</text>
<text transform="translate(94.80 317.20) scale(0.9700 1)" font-size="30" stroke="#fff" stroke-width="0.3">1</text>
<text transform="translate(94.66 246.80) scale(0.9700 1)" font-size="30" stroke="#fff" stroke-width="0.3">2</text>
<text transform="translate(94.19 176.40) scale(0.9700 1)" font-size="30" stroke="#fff" stroke-width="0.3">3</text>
<text transform="translate(93.50 106.00) scale(0.9700 1)" font-size="30" stroke="#fff" stroke-width="0.3">4</text>
<text transform="translate(94.19 35.60) scale(0.9700 1)" font-size="30" stroke="#fff" stroke-width="0.3">5</text>
<text transform="translate(72.36 654.45) scale(0.9700 1)" font-size="30" stroke="#fff" stroke-width="0.3">0.5</text>
<text transform="translate(94.80 584.30) scale(0.9700 1)" font-size="30" stroke="#fff" stroke-width="0.3">1</text>
<text transform="translate(72.36 514.15) scale(0.9700 1)" font-size="30" stroke="#fff" stroke-width="0.3">1.5</text>
<text transform="translate(94.66 444.00) scale(0.9700 1)" font-size="30" stroke="#fff" stroke-width="0.3">2</text>
<text transform="translate(120.92 711.20) scale(0.9700 1)" font-size="30" stroke="#fff" stroke-width="0.3">0</text>
<text transform="translate(256.82 711.20) scale(0.9700 1)" font-size="30" stroke="#fff" stroke-width="0.3">1</text>
<text transform="translate(393.69 711.20) scale(0.9700 1)" font-size="30" stroke="#fff" stroke-width="0.3">2</text>
<text transform="translate(529.70 711.20) scale(0.9700 1)" font-size="30" stroke="#fff" stroke-width="0.3">3</text>
<text transform="translate(666.07 711.20) scale(0.9700 1)" font-size="30" stroke="#fff" stroke-width="0.3">4</text>
<text transform="translate(802.15 711.20) scale(0.9700 1)" font-size="30" stroke="#fff" stroke-width="0.3">5</text>
<text transform="translate(34.5 527.5) rotate(-90)" font-size="36" text-anchor="middle" textLength="82.2" lengthAdjust="spacing" stroke="#fff" stroke-width="0.3">Ratio</text>
<g transform="translate(63.4 256) rotate(-90)" font-size="45" font-style="italic" stroke="#fff" stroke-width="0.8">
<text x="0" y="0">d</text>
<text x="22" y="0" textLength="36.5" lengthAdjust="spacingAndGlyphs">N</text>
<text x="79.5" y="0">d</text>
</g>
<path d="M79.6 197.8L23.6 177.4" stroke="#000" stroke-width="1.5" fill="none"/>
<path d="M457.32 757.91L457.67 757.55L458.02 757.19L458.37 756.83L458.72 756.47L459.07 756.11L459.42 755.75L459.77 755.39L460.12 755.04L460.47 754.68L460.82 754.32L461.17 753.96L461.52 753.60L461.86 753.23L462.21 752.87L462.55 752.51L462.90 752.14L463.24 751.78L463.58 751.41L463.92 751.04L464.26 750.67L464.59 750.29L464.92 749.92L465.26 749.54L465.58 749.16L465.91 748.78L466.23 748.39L466.55 748.00L466.87 747.61L467.18 747.22L467.49 746.82L467.80 746.42L468.11 746.01L468.41 745.61L468.70 745.19L469.00 744.78L469.28 744.36L469.57 743.93L469.85 743.51L470.12 743.07L470.39 742.64L470.66 742.19L470.91 741.74L471.15 741.27L471.38 740.80L471.58 740.32L471.77 739.83L471.93 739.32L472.06 738.81L472.15 738.28L472.22 737.74L472.24 737.19L472.22 736.63L472.16 736.05L472.05 735.46L471.90 734.86L471.69 734.27L471.45 733.70L471.17 733.17L470.85 732.69L470.48 732.28L470.06 731.96L469.55 731.77L469.01 731.76L468.50 731.90L468.02 732.15L467.55 732.47L467.10 732.87L466.66 733.32L466.23 733.81L465.82 734.32L465.43 734.86L465.06 735.39L464.72 735.92L464.40 736.43L464.09 736.92L463.79 737.41L463.51 737.89L463.24 738.36L462.98 738.82L462.74 739.28L462.51 739.73L462.29 740.17L462.08 740.62L461.88 741.06L461.69 741.50L461.51 741.95L461.33 742.39L461.17 742.84L461.01 743.28L460.86 743.74L460.71 744.20L460.57 744.66L460.43 745.13L460.29 745.61L460.16 746.10L460.02 746.59L459.90 747.09L459.77 747.60L459.66 748.11L459.54 748.62L459.44 749.14L459.34 749.66L459.25 750.19L459.17 750.72L459.10 751.25L459.04 751.78L458.99 752.32L458.96 752.86L458.93 753.40L458.93 753.94L458.95 754.49L458.99 755.04L459.06 755.59L459.16 756.14L459.29 756.69L459.45 757.24L459.65 757.78L459.88 758.32L460.14 758.84L460.45 759.35L460.80 759.85L461.20 760.32L461.64 760.75L462.13 761.13L462.64 761.45L463.19 761.69L463.75 761.86L464.33 761.93L464.90 761.89L465.46 761.77L466.00 761.58L466.52 761.33L467.04 761.04L467.54 760.71L468.03 760.36L468.49 759.99L468.94 759.60L469.35 759.21L469.73 758.82L470.08 758.44L470.39 758.08L470.65 757.75L470.87 757.46L470.13 756.94L469.94 757.20L469.70 757.51L469.41 757.84L469.08 758.20L468.72 758.57L468.33 758.94L467.91 759.30L467.48 759.65L467.03 759.97L466.58 760.26L466.11 760.49L465.66 760.67L465.22 760.78L464.80 760.82L464.42 760.79L464.08 760.69L463.77 760.52L463.47 760.27L463.20 759.95L462.94 759.58L462.71 759.18L462.49 758.76L462.29 758.34L462.12 757.91L461.98 757.49L461.86 757.06L461.77 756.63L461.70 756.20L461.65 755.76L461.62 755.32L461.60 754.87L461.60 754.41L461.61 753.95L461.63 753.49L461.65 753.01L461.68 752.54L461.73 752.06L461.78 751.58L461.85 751.10L461.92 750.61L462.00 750.13L462.09 749.65L462.19 749.17L462.29 748.70L462.40 748.22L462.52 747.75L462.64 747.28L462.76 746.81L462.89 746.35L463.02 745.89L463.15 745.44L463.29 744.99L463.43 744.55L463.56 744.12L463.70 743.69L463.83 743.26L463.97 742.84L464.10 742.41L464.25 741.99L464.39 741.56L464.55 741.13L464.71 740.70L464.88 740.26L465.06 739.81L465.25 739.35L465.45 738.88L465.67 738.41L465.90 737.91L466.14 737.41L466.41 736.89L466.68 736.36L466.97 735.81L467.27 735.27L467.56 734.74L467.86 734.25L468.16 733.80L468.45 733.42L468.73 733.12L468.99 732.91L469.21 732.80L469.40 732.77L469.59 732.83L469.84 732.99L470.11 733.27L470.37 733.65L470.63 734.10L470.85 734.60L471.03 735.13L471.17 735.66L471.27 736.18L471.33 736.69L471.34 737.18L471.32 737.67L471.26 738.15L471.18 738.62L471.06 739.08L470.92 739.53L470.75 739.98L470.56 740.43L470.35 740.87L470.12 741.31L469.88 741.74L469.62 742.17L469.36 742.60L469.09 743.02L468.82 743.44L468.54 743.85L468.26 744.26L467.97 744.67L467.68 745.08L467.38 745.48L467.09 745.87L466.78 746.27L466.48 746.66L466.17 747.05L465.86 747.43L465.54 747.81L465.22 748.19L464.90 748.57L464.58 748.95L464.25 749.32L463.92 749.69L463.59 750.06L463.25 750.43L462.92 750.80L462.58 751.16L462.24 751.53L461.90 751.89L461.56 752.25L461.21 752.61L460.87 752.97L460.52 753.33L460.17 753.69L459.83 754.05L459.48 754.41L459.13 754.77L458.78 755.13L458.43 755.48L458.08 755.84L457.73 756.20L457.38 756.56L457.03 756.93L456.68 757.29Z" fill="#000"/>
<path d="M59.82 154.29L59.47 153.92L59.12 153.55L58.78 153.18L58.43 152.81L58.09 152.44L57.74 152.07L57.40 151.70L57.06 151.33L56.72 150.96L56.38 150.59L56.04 150.22L55.71 149.85L55.37 149.48L55.03 149.11L54.69 148.75L54.35 148.38L54.01 148.02L53.67 147.66L53.32 147.29L52.98 146.93L52.63 146.58L52.28 146.22L51.93 145.86L51.58 145.51L51.22 145.16L50.86 144.81L50.50 144.47L50.13 144.12L49.76 143.78L49.39 143.44L49.01 143.11L48.63 142.78L48.24 142.45L47.85 142.12L47.46 141.80L47.05 141.48L46.65 141.17L46.24 140.85L45.82 140.55L45.39 140.24L44.96 139.94L44.53 139.65L44.08 139.36L43.62 139.08L43.16 138.82L42.69 138.57L42.20 138.34L41.71 138.14L41.20 137.96L40.68 137.81L40.16 137.70L39.62 137.63L39.07 137.60L38.51 137.61L37.94 137.68L37.36 137.79L36.77 137.96L36.20 138.18L35.64 138.44L35.12 138.75L34.65 139.09L34.24 139.47L33.92 139.91L33.70 140.41L33.64 140.94L33.71 141.46L33.89 141.97L34.16 142.46L34.49 142.94L34.89 143.40L35.33 143.85L35.80 144.29L36.30 144.71L36.81 145.11L37.32 145.49L37.82 145.85L38.30 146.19L38.78 146.52L39.25 146.83L39.72 147.13L40.17 147.42L40.62 147.70L41.07 147.96L41.51 148.21L41.95 148.46L42.39 148.69L42.83 148.91L43.26 149.12L43.70 149.33L44.14 149.52L44.59 149.71L45.03 149.89L45.48 150.07L45.94 150.23L46.40 150.40L46.87 150.56L47.35 150.72L47.83 150.87L48.32 151.02L48.82 151.17L49.32 151.31L49.83 151.44L50.35 151.57L50.87 151.69L51.39 151.80L51.92 151.90L52.45 151.99L52.99 152.07L53.53 152.14L54.07 152.20L54.62 152.24L55.17 152.27L55.72 152.27L56.28 152.25L56.84 152.20L57.40 152.13L57.96 152.03L58.51 151.89L59.06 151.73L59.60 151.52L60.14 151.29L60.66 151.01L61.16 150.70L61.65 150.34L62.10 149.94L62.52 149.49L62.89 149.00L63.21 148.49L63.47 147.96L63.66 147.41L63.79 146.84L63.84 146.27L63.80 145.71L63.69 145.16L63.52 144.62L63.30 144.10L63.05 143.58L62.76 143.07L62.45 142.58L62.12 142.10L61.77 141.64L61.41 141.20L61.04 140.78L60.68 140.39L60.33 140.02L59.99 139.69L59.68 139.40L59.40 139.14L58.80 139.82L59.07 140.06L59.37 140.34L59.69 140.66L60.03 141.01L60.37 141.38L60.72 141.78L61.06 142.19L61.39 142.63L61.70 143.08L61.99 143.53L62.24 144.00L62.44 144.46L62.59 144.92L62.69 145.37L62.73 145.81L62.71 146.21L62.63 146.59L62.48 146.95L62.26 147.29L61.98 147.61L61.65 147.90L61.28 148.17L60.89 148.42L60.49 148.65L60.09 148.86L59.68 149.04L59.27 149.19L58.85 149.31L58.42 149.40L57.99 149.48L57.55 149.53L57.10 149.57L56.65 149.59L56.19 149.59L55.73 149.59L55.26 149.57L54.79 149.55L54.31 149.51L53.83 149.46L53.35 149.40L52.88 149.33L52.40 149.25L51.92 149.16L51.45 149.06L50.97 148.95L50.50 148.83L50.03 148.71L49.57 148.57L49.10 148.44L48.64 148.30L48.19 148.15L47.74 148.00L47.29 147.85L46.85 147.69L46.41 147.54L45.98 147.38L45.55 147.23L45.13 147.07L44.71 146.92L44.28 146.76L43.86 146.59L43.44 146.42L43.01 146.25L42.58 146.06L42.14 145.87L41.70 145.67L41.25 145.46L40.80 145.24L40.33 145.00L39.85 144.75L39.36 144.49L38.86 144.21L38.35 143.91L37.83 143.60L37.31 143.29L36.80 142.97L36.32 142.66L35.87 142.34L35.48 142.02L35.16 141.71L34.91 141.41L34.75 141.13L34.67 140.88L34.68 140.65L34.77 140.39L34.96 140.11L35.26 139.81L35.63 139.52L36.07 139.25L36.56 139.02L37.06 138.82L37.57 138.67L38.08 138.57L38.57 138.51L39.05 138.50L39.53 138.53L40.00 138.59L40.47 138.69L40.93 138.82L41.39 138.98L41.84 139.16L42.29 139.37L42.73 139.61L43.17 139.86L43.60 140.12L44.03 140.40L44.46 140.68L44.88 140.98L45.29 141.27L45.70 141.57L46.10 141.88L46.50 142.19L46.89 142.50L47.28 142.82L47.66 143.14L48.04 143.46L48.42 143.78L48.79 144.11L49.15 144.45L49.52 144.78L49.88 145.12L50.24 145.46L50.59 145.80L50.94 146.15L51.29 146.50L51.64 146.85L51.99 147.20L52.33 147.56L52.67 147.92L53.01 148.27L53.35 148.63L53.69 149.00L54.03 149.36L54.37 149.73L54.71 150.09L55.04 150.46L55.38 150.83L55.72 151.20L56.06 151.57L56.40 151.94L56.74 152.31L57.08 152.68L57.43 153.05L57.77 153.42L58.12 153.80L58.47 154.17L58.82 154.54L59.18 154.91Z" fill="#000"/>
</g>
</svg>
</body></html>
